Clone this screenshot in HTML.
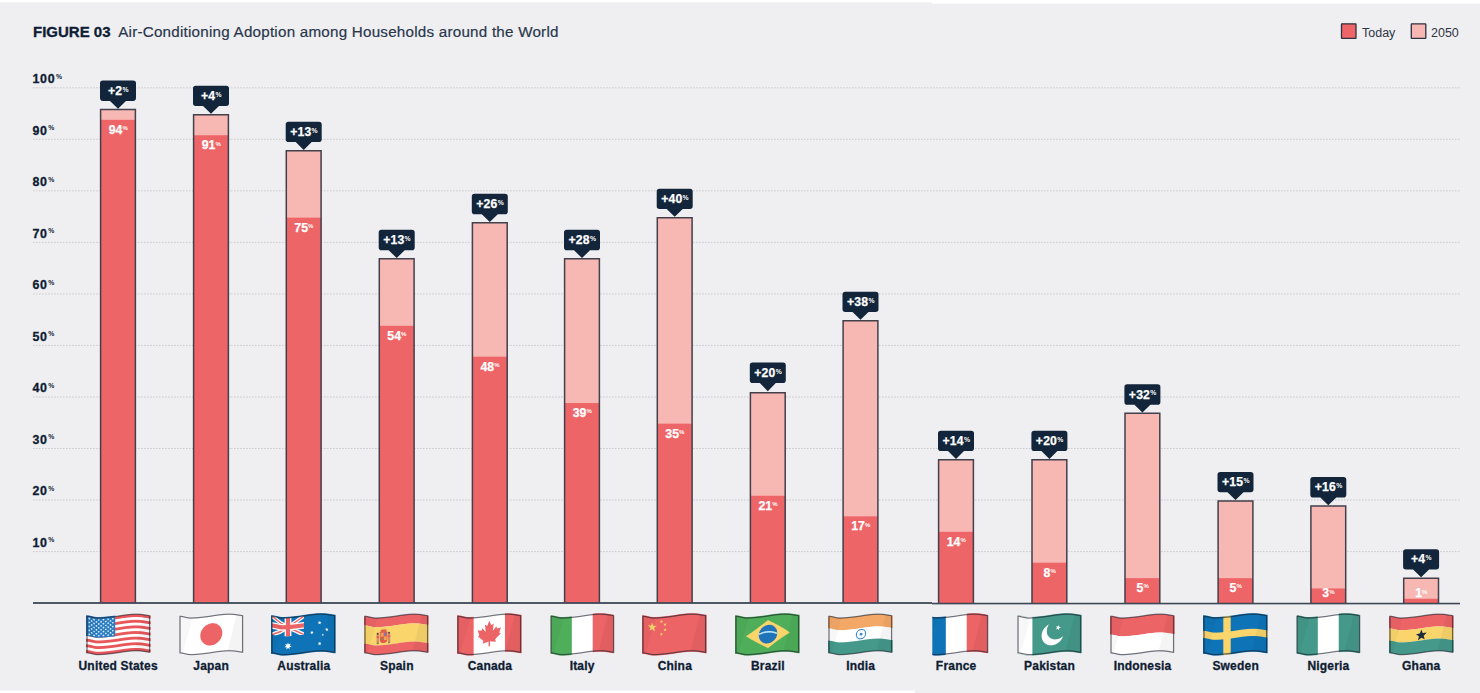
<!DOCTYPE html><html><head><meta charset="utf-8"><style>html,body{margin:0;padding:0;background:#efeff2;font-family:"Liberation Sans",sans-serif;}body{width:1480px;height:693px;overflow:hidden;position:relative;}svg{position:absolute;left:0;top:0;display:block}</style></head><body>
<svg width="1480" height="693" viewBox="0 0 1480 693" font-family="Liberation Sans, sans-serif">
<rect x="0" y="0" width="1480" height="693" fill="#efeff2"/>
<rect x="0" y="0" width="932" height="2.4" fill="#fff"/>
<rect x="932" y="0" width="548" height="3.6" fill="#fff"/>
<rect x="0" y="690.5" width="915" height="3" fill="#fff"/>
<text x="33" y="36.6" font-size="15" font-weight="bold" fill="#0e1c33" stroke="#0e1c33" stroke-width="0.3">FIGURE 03</text>
<text x="118.2" y="36.5" font-size="15.2" fill="#2a374b" stroke="#2a374b" stroke-width="0.2" letter-spacing="0.23">Air-Conditioning Adoption among Households around the World</text>
<rect x="1341.5" y="23.8" width="14.5" height="14.5" rx="0.4" fill="#ee6567" stroke="#2e3140" stroke-width="1.3"/>
<text x="1362" y="36.9" font-size="12.5" fill="#30343f">Today</text>
<rect x="1411.3" y="23.8" width="14.5" height="14.5" rx="0.4" fill="#f7b8b4" stroke="#2e3140" stroke-width="1.3"/>
<text x="1431" y="36.9" font-size="12.5" fill="#30343f">2050</text>
<line x1="33" y1="551.57" x2="1460" y2="551.57" stroke="#c9c9ce" stroke-width="0.95" stroke-dasharray="1.6 1.4"/>
<text x="32.4" y="546.77" font-size="12.4" font-weight="bold" fill="#0e1c33" stroke="#0e1c33" stroke-width="0.3" letter-spacing="0.75">10<tspan font-size="6.8" dy="-4.4" dx="0.6" letter-spacing="0" stroke-width="0">%</tspan></text>
<line x1="33" y1="500.04" x2="1460" y2="500.04" stroke="#c9c9ce" stroke-width="0.95" stroke-dasharray="1.6 1.4"/>
<text x="32.4" y="495.24" font-size="12.4" font-weight="bold" fill="#0e1c33" stroke="#0e1c33" stroke-width="0.3" letter-spacing="0.75">20<tspan font-size="6.8" dy="-4.4" dx="0.6" letter-spacing="0" stroke-width="0">%</tspan></text>
<line x1="33" y1="448.51" x2="1460" y2="448.51" stroke="#c9c9ce" stroke-width="0.95" stroke-dasharray="1.6 1.4"/>
<text x="32.4" y="443.71" font-size="12.4" font-weight="bold" fill="#0e1c33" stroke="#0e1c33" stroke-width="0.3" letter-spacing="0.75">30<tspan font-size="6.8" dy="-4.4" dx="0.6" letter-spacing="0" stroke-width="0">%</tspan></text>
<line x1="33" y1="396.98" x2="1460" y2="396.98" stroke="#c9c9ce" stroke-width="0.95" stroke-dasharray="1.6 1.4"/>
<text x="32.4" y="392.18" font-size="12.4" font-weight="bold" fill="#0e1c33" stroke="#0e1c33" stroke-width="0.3" letter-spacing="0.75">40<tspan font-size="6.8" dy="-4.4" dx="0.6" letter-spacing="0" stroke-width="0">%</tspan></text>
<line x1="33" y1="345.45" x2="1460" y2="345.45" stroke="#c9c9ce" stroke-width="0.95" stroke-dasharray="1.6 1.4"/>
<text x="32.4" y="340.65" font-size="12.4" font-weight="bold" fill="#0e1c33" stroke="#0e1c33" stroke-width="0.3" letter-spacing="0.75">50<tspan font-size="6.8" dy="-4.4" dx="0.6" letter-spacing="0" stroke-width="0">%</tspan></text>
<line x1="33" y1="293.92" x2="1460" y2="293.92" stroke="#c9c9ce" stroke-width="0.95" stroke-dasharray="1.6 1.4"/>
<text x="32.4" y="289.12" font-size="12.4" font-weight="bold" fill="#0e1c33" stroke="#0e1c33" stroke-width="0.3" letter-spacing="0.75">60<tspan font-size="6.8" dy="-4.4" dx="0.6" letter-spacing="0" stroke-width="0">%</tspan></text>
<line x1="33" y1="242.39" x2="1460" y2="242.39" stroke="#c9c9ce" stroke-width="0.95" stroke-dasharray="1.6 1.4"/>
<text x="32.4" y="237.59" font-size="12.4" font-weight="bold" fill="#0e1c33" stroke="#0e1c33" stroke-width="0.3" letter-spacing="0.75">70<tspan font-size="6.8" dy="-4.4" dx="0.6" letter-spacing="0" stroke-width="0">%</tspan></text>
<line x1="33" y1="190.86" x2="1460" y2="190.86" stroke="#c9c9ce" stroke-width="0.95" stroke-dasharray="1.6 1.4"/>
<text x="32.4" y="186.06" font-size="12.4" font-weight="bold" fill="#0e1c33" stroke="#0e1c33" stroke-width="0.3" letter-spacing="0.75">80<tspan font-size="6.8" dy="-4.4" dx="0.6" letter-spacing="0" stroke-width="0">%</tspan></text>
<line x1="33" y1="139.33" x2="1460" y2="139.33" stroke="#c9c9ce" stroke-width="0.95" stroke-dasharray="1.6 1.4"/>
<text x="32.4" y="134.53" font-size="12.4" font-weight="bold" fill="#0e1c33" stroke="#0e1c33" stroke-width="0.3" letter-spacing="0.75">90<tspan font-size="6.8" dy="-4.4" dx="0.6" letter-spacing="0" stroke-width="0">%</tspan></text>
<line x1="33" y1="87.80" x2="1460" y2="87.80" stroke="#c9c9ce" stroke-width="0.95" stroke-dasharray="1.6 1.4"/>
<text x="32.4" y="83.00" font-size="12.4" font-weight="bold" fill="#0e1c33" stroke="#0e1c33" stroke-width="0.3" letter-spacing="0.75">100<tspan font-size="6.8" dy="-4.4" dx="0.6" letter-spacing="0" stroke-width="0">%</tspan></text>
<rect x="100.60" y="109.50" width="34.80" height="493.50" fill="#f7b8b4"/>
<rect x="100.60" y="119.80" width="34.80" height="483.20" fill="#ee6567"/>
<path d="M100.60 603 V109.50 H135.40 V603" fill="none" stroke="#433f4b" stroke-width="1.5"/>
<text x="118.20" y="133.70" font-size="12.3" font-weight="bold" fill="#fff" stroke="#fff" stroke-width="0.25" text-anchor="middle">94<tspan font-size="6" dy="-3.6" dx="0.1" stroke-width="0">%</tspan></text>
<path d="M102.80 80.50 H133.20 Q136.00 80.50 136.00 83.30 V98.10 Q136.00 100.90 133.20 100.90 H126.00 L118.00 108.70 L110.00 100.90 H102.80 Q100.00 100.90 100.00 98.10 V83.30 Q100.00 80.50 102.80 80.50 Z" fill="#13253a"/>
<text x="118.30" y="94.80" font-size="12.2" font-weight="bold" fill="#fff" stroke="#fff" stroke-width="0.25" text-anchor="middle" letter-spacing="0.2">+2<tspan font-size="6.8" dy="-3.3" dx="0.2" stroke-width="0">%</tspan></text>
<rect x="193.60" y="114.65" width="34.80" height="488.35" fill="#f7b8b4"/>
<rect x="193.60" y="135.25" width="34.80" height="467.75" fill="#ee6567"/>
<path d="M193.60 603 V114.65 H228.40 V603" fill="none" stroke="#433f4b" stroke-width="1.5"/>
<text x="211.20" y="149.15" font-size="12.3" font-weight="bold" fill="#fff" stroke="#fff" stroke-width="0.25" text-anchor="middle">91<tspan font-size="6" dy="-3.6" dx="0.1" stroke-width="0">%</tspan></text>
<path d="M195.80 85.65 H226.20 Q229.00 85.65 229.00 88.45 V103.25 Q229.00 106.05 226.20 106.05 H219.00 L211.00 113.85 L203.00 106.05 H195.80 Q193.00 106.05 193.00 103.25 V88.45 Q193.00 85.65 195.80 85.65 Z" fill="#13253a"/>
<text x="211.30" y="99.95" font-size="12.2" font-weight="bold" fill="#fff" stroke="#fff" stroke-width="0.25" text-anchor="middle" letter-spacing="0.2">+4<tspan font-size="6.8" dy="-3.3" dx="0.2" stroke-width="0">%</tspan></text>
<rect x="286.30" y="150.70" width="34.80" height="452.30" fill="#f7b8b4"/>
<rect x="286.30" y="217.65" width="34.80" height="385.35" fill="#ee6567"/>
<path d="M286.30 603 V150.70 H321.10 V603" fill="none" stroke="#433f4b" stroke-width="1.5"/>
<text x="303.90" y="231.55" font-size="12.3" font-weight="bold" fill="#fff" stroke="#fff" stroke-width="0.25" text-anchor="middle">75<tspan font-size="6" dy="-3.6" dx="0.1" stroke-width="0">%</tspan></text>
<path d="M288.50 121.70 H318.90 Q321.70 121.70 321.70 124.50 V139.30 Q321.70 142.10 318.90 142.10 H311.70 L303.70 149.90 L295.70 142.10 H288.50 Q285.70 142.10 285.70 139.30 V124.50 Q285.70 121.70 288.50 121.70 Z" fill="#13253a"/>
<text x="304.00" y="136.00" font-size="12.2" font-weight="bold" fill="#fff" stroke="#fff" stroke-width="0.25" text-anchor="middle" letter-spacing="0.2">+13<tspan font-size="6.8" dy="-3.3" dx="0.2" stroke-width="0">%</tspan></text>
<rect x="379.30" y="258.85" width="34.80" height="344.15" fill="#f7b8b4"/>
<rect x="379.30" y="325.80" width="34.80" height="277.20" fill="#ee6567"/>
<path d="M379.30 603 V258.85 H414.10 V603" fill="none" stroke="#433f4b" stroke-width="1.5"/>
<text x="396.90" y="339.70" font-size="12.3" font-weight="bold" fill="#fff" stroke="#fff" stroke-width="0.25" text-anchor="middle">54<tspan font-size="6" dy="-3.6" dx="0.1" stroke-width="0">%</tspan></text>
<path d="M381.50 229.85 H411.90 Q414.70 229.85 414.70 232.65 V247.45 Q414.70 250.25 411.90 250.25 H404.70 L396.70 258.05 L388.70 250.25 H381.50 Q378.70 250.25 378.70 247.45 V232.65 Q378.70 229.85 381.50 229.85 Z" fill="#13253a"/>
<text x="397.00" y="244.15" font-size="12.2" font-weight="bold" fill="#fff" stroke="#fff" stroke-width="0.25" text-anchor="middle" letter-spacing="0.2">+13<tspan font-size="6.8" dy="-3.3" dx="0.2" stroke-width="0">%</tspan></text>
<rect x="472.40" y="222.80" width="34.80" height="380.20" fill="#f7b8b4"/>
<rect x="472.40" y="356.70" width="34.80" height="246.30" fill="#ee6567"/>
<path d="M472.40 603 V222.80 H507.20 V603" fill="none" stroke="#433f4b" stroke-width="1.5"/>
<text x="490.00" y="370.60" font-size="12.3" font-weight="bold" fill="#fff" stroke="#fff" stroke-width="0.25" text-anchor="middle">48<tspan font-size="6" dy="-3.6" dx="0.1" stroke-width="0">%</tspan></text>
<path d="M474.60 193.80 H505.00 Q507.80 193.80 507.80 196.60 V211.40 Q507.80 214.20 505.00 214.20 H497.80 L489.80 222.00 L481.80 214.20 H474.60 Q471.80 214.20 471.80 211.40 V196.60 Q471.80 193.80 474.60 193.80 Z" fill="#13253a"/>
<text x="490.10" y="208.10" font-size="12.2" font-weight="bold" fill="#fff" stroke="#fff" stroke-width="0.25" text-anchor="middle" letter-spacing="0.2">+26<tspan font-size="6.8" dy="-3.3" dx="0.2" stroke-width="0">%</tspan></text>
<rect x="564.60" y="258.85" width="34.80" height="344.15" fill="#f7b8b4"/>
<rect x="564.60" y="403.05" width="34.80" height="199.95" fill="#ee6567"/>
<path d="M564.60 603 V258.85 H599.40 V603" fill="none" stroke="#433f4b" stroke-width="1.5"/>
<text x="582.20" y="416.95" font-size="12.3" font-weight="bold" fill="#fff" stroke="#fff" stroke-width="0.25" text-anchor="middle">39<tspan font-size="6" dy="-3.6" dx="0.1" stroke-width="0">%</tspan></text>
<path d="M566.80 229.85 H597.20 Q600.00 229.85 600.00 232.65 V247.45 Q600.00 250.25 597.20 250.25 H590.00 L582.00 258.05 L574.00 250.25 H566.80 Q564.00 250.25 564.00 247.45 V232.65 Q564.00 229.85 566.80 229.85 Z" fill="#13253a"/>
<text x="582.30" y="244.15" font-size="12.2" font-weight="bold" fill="#fff" stroke="#fff" stroke-width="0.25" text-anchor="middle" letter-spacing="0.2">+28<tspan font-size="6.8" dy="-3.3" dx="0.2" stroke-width="0">%</tspan></text>
<rect x="657.30" y="217.65" width="34.80" height="385.35" fill="#f7b8b4"/>
<rect x="657.30" y="423.65" width="34.80" height="179.35" fill="#ee6567"/>
<path d="M657.30 603 V217.65 H692.10 V603" fill="none" stroke="#433f4b" stroke-width="1.5"/>
<text x="674.90" y="437.55" font-size="12.3" font-weight="bold" fill="#fff" stroke="#fff" stroke-width="0.25" text-anchor="middle">35<tspan font-size="6" dy="-3.6" dx="0.1" stroke-width="0">%</tspan></text>
<path d="M659.50 188.65 H689.90 Q692.70 188.65 692.70 191.45 V206.25 Q692.70 209.05 689.90 209.05 H682.70 L674.70 216.85 L666.70 209.05 H659.50 Q656.70 209.05 656.70 206.25 V191.45 Q656.70 188.65 659.50 188.65 Z" fill="#13253a"/>
<text x="675.00" y="202.95" font-size="12.2" font-weight="bold" fill="#fff" stroke="#fff" stroke-width="0.25" text-anchor="middle" letter-spacing="0.2">+40<tspan font-size="6.8" dy="-3.3" dx="0.2" stroke-width="0">%</tspan></text>
<rect x="750.40" y="392.75" width="34.80" height="210.25" fill="#f7b8b4"/>
<rect x="750.40" y="495.75" width="34.80" height="107.25" fill="#ee6567"/>
<path d="M750.40 603 V392.75 H785.20 V603" fill="none" stroke="#433f4b" stroke-width="1.5"/>
<text x="768.00" y="509.65" font-size="12.3" font-weight="bold" fill="#fff" stroke="#fff" stroke-width="0.25" text-anchor="middle">21<tspan font-size="6" dy="-3.6" dx="0.1" stroke-width="0">%</tspan></text>
<path d="M752.60 362.55 H783.00 Q785.80 362.55 785.80 365.35 V380.15 Q785.80 382.95 783.00 382.95 H775.80 L767.80 391.35 L759.80 382.95 H752.60 Q749.80 382.95 749.80 380.15 V365.35 Q749.80 362.55 752.60 362.55 Z" fill="#13253a"/>
<text x="768.10" y="376.85" font-size="12.2" font-weight="bold" fill="#fff" stroke="#fff" stroke-width="0.25" text-anchor="middle" letter-spacing="0.2">+20<tspan font-size="6.8" dy="-3.3" dx="0.2" stroke-width="0">%</tspan></text>
<rect x="843.10" y="320.65" width="34.80" height="282.35" fill="#f7b8b4"/>
<rect x="843.10" y="516.35" width="34.80" height="86.65" fill="#ee6567"/>
<path d="M843.10 603 V320.65 H877.90 V603" fill="none" stroke="#433f4b" stroke-width="1.5"/>
<text x="860.70" y="530.25" font-size="12.3" font-weight="bold" fill="#fff" stroke="#fff" stroke-width="0.25" text-anchor="middle">17<tspan font-size="6" dy="-3.6" dx="0.1" stroke-width="0">%</tspan></text>
<path d="M845.30 291.65 H875.70 Q878.50 291.65 878.50 294.45 V309.25 Q878.50 312.05 875.70 312.05 H868.50 L860.50 319.85 L852.50 312.05 H845.30 Q842.50 312.05 842.50 309.25 V294.45 Q842.50 291.65 845.30 291.65 Z" fill="#13253a"/>
<text x="860.80" y="305.95" font-size="12.2" font-weight="bold" fill="#fff" stroke="#fff" stroke-width="0.25" text-anchor="middle" letter-spacing="0.2">+38<tspan font-size="6.8" dy="-3.3" dx="0.2" stroke-width="0">%</tspan></text>
<rect x="938.60" y="459.70" width="34.80" height="143.30" fill="#f7b8b4"/>
<rect x="938.60" y="531.80" width="34.80" height="71.20" fill="#ee6567"/>
<path d="M938.60 603 V459.70 H973.40 V603" fill="none" stroke="#433f4b" stroke-width="1.5"/>
<text x="956.20" y="545.70" font-size="12.3" font-weight="bold" fill="#fff" stroke="#fff" stroke-width="0.25" text-anchor="middle">14<tspan font-size="6" dy="-3.6" dx="0.1" stroke-width="0">%</tspan></text>
<path d="M940.80 430.70 H971.20 Q974.00 430.70 974.00 433.50 V448.30 Q974.00 451.10 971.20 451.10 H964.00 L956.00 458.90 L948.00 451.10 H940.80 Q938.00 451.10 938.00 448.30 V433.50 Q938.00 430.70 940.80 430.70 Z" fill="#13253a"/>
<text x="956.30" y="445.00" font-size="12.2" font-weight="bold" fill="#fff" stroke="#fff" stroke-width="0.25" text-anchor="middle" letter-spacing="0.2">+14<tspan font-size="6.8" dy="-3.3" dx="0.2" stroke-width="0">%</tspan></text>
<rect x="1032.00" y="459.70" width="34.80" height="143.30" fill="#f7b8b4"/>
<rect x="1032.00" y="562.70" width="34.80" height="40.30" fill="#ee6567"/>
<path d="M1032.00 603 V459.70 H1066.80 V603" fill="none" stroke="#433f4b" stroke-width="1.5"/>
<text x="1049.60" y="576.60" font-size="12.3" font-weight="bold" fill="#fff" stroke="#fff" stroke-width="0.25" text-anchor="middle">8<tspan font-size="6" dy="-3.6" dx="0.1" stroke-width="0">%</tspan></text>
<path d="M1034.20 430.70 H1064.60 Q1067.40 430.70 1067.40 433.50 V448.30 Q1067.40 451.10 1064.60 451.10 H1057.40 L1049.40 458.90 L1041.40 451.10 H1034.20 Q1031.40 451.10 1031.40 448.30 V433.50 Q1031.40 430.70 1034.20 430.70 Z" fill="#13253a"/>
<text x="1049.70" y="445.00" font-size="12.2" font-weight="bold" fill="#fff" stroke="#fff" stroke-width="0.25" text-anchor="middle" letter-spacing="0.2">+20<tspan font-size="6.8" dy="-3.3" dx="0.2" stroke-width="0">%</tspan></text>
<rect x="1125.00" y="413.35" width="34.80" height="189.65" fill="#f7b8b4"/>
<rect x="1125.00" y="578.15" width="34.80" height="24.85" fill="#ee6567"/>
<path d="M1125.00 603 V413.35 H1159.80 V603" fill="none" stroke="#433f4b" stroke-width="1.5"/>
<text x="1142.60" y="592.05" font-size="12.3" font-weight="bold" fill="#fff" stroke="#fff" stroke-width="0.25" text-anchor="middle">5<tspan font-size="6" dy="-3.6" dx="0.1" stroke-width="0">%</tspan></text>
<path d="M1127.20 384.35 H1157.60 Q1160.40 384.35 1160.40 387.15 V401.95 Q1160.40 404.75 1157.60 404.75 H1150.40 L1142.40 412.55 L1134.40 404.75 H1127.20 Q1124.40 404.75 1124.40 401.95 V387.15 Q1124.40 384.35 1127.20 384.35 Z" fill="#13253a"/>
<text x="1142.70" y="398.65" font-size="12.2" font-weight="bold" fill="#fff" stroke="#fff" stroke-width="0.25" text-anchor="middle" letter-spacing="0.2">+32<tspan font-size="6.8" dy="-3.3" dx="0.2" stroke-width="0">%</tspan></text>
<rect x="1218.10" y="500.90" width="34.80" height="102.10" fill="#f7b8b4"/>
<rect x="1218.10" y="578.15" width="34.80" height="24.85" fill="#ee6567"/>
<path d="M1218.10 603 V500.90 H1252.90 V603" fill="none" stroke="#433f4b" stroke-width="1.5"/>
<text x="1235.70" y="592.05" font-size="12.3" font-weight="bold" fill="#fff" stroke="#fff" stroke-width="0.25" text-anchor="middle">5<tspan font-size="6" dy="-3.6" dx="0.1" stroke-width="0">%</tspan></text>
<path d="M1220.30 471.90 H1250.70 Q1253.50 471.90 1253.50 474.70 V489.50 Q1253.50 492.30 1250.70 492.30 H1243.50 L1235.50 500.10 L1227.50 492.30 H1220.30 Q1217.50 492.30 1217.50 489.50 V474.70 Q1217.50 471.90 1220.30 471.90 Z" fill="#13253a"/>
<text x="1235.80" y="486.20" font-size="12.2" font-weight="bold" fill="#fff" stroke="#fff" stroke-width="0.25" text-anchor="middle" letter-spacing="0.2">+15<tspan font-size="6.8" dy="-3.3" dx="0.2" stroke-width="0">%</tspan></text>
<rect x="1310.90" y="506.05" width="34.80" height="96.95" fill="#f7b8b4"/>
<rect x="1310.90" y="588.45" width="34.80" height="14.55" fill="#ee6567"/>
<path d="M1310.90 603 V506.05 H1345.70 V603" fill="none" stroke="#433f4b" stroke-width="1.5"/>
<text x="1328.50" y="597.40" font-size="12.3" font-weight="bold" fill="#fff" stroke="#fff" stroke-width="0.25" text-anchor="middle">3<tspan font-size="6" dy="-3.6" dx="0.1" stroke-width="0">%</tspan></text>
<path d="M1313.10 477.05 H1343.50 Q1346.30 477.05 1346.30 479.85 V494.65 Q1346.30 497.45 1343.50 497.45 H1336.30 L1328.30 505.25 L1320.30 497.45 H1313.10 Q1310.30 497.45 1310.30 494.65 V479.85 Q1310.30 477.05 1313.10 477.05 Z" fill="#13253a"/>
<text x="1328.60" y="491.35" font-size="12.2" font-weight="bold" fill="#fff" stroke="#fff" stroke-width="0.25" text-anchor="middle" letter-spacing="0.2">+16<tspan font-size="6.8" dy="-3.3" dx="0.2" stroke-width="0">%</tspan></text>
<rect x="1403.70" y="578.15" width="34.80" height="24.85" fill="#f7b8b4"/>
<rect x="1403.70" y="598.75" width="34.80" height="4.25" fill="#ee6567"/>
<path d="M1403.70 603 V578.15 H1438.50 V603" fill="none" stroke="#433f4b" stroke-width="1.5"/>
<text x="1421.30" y="597.40" font-size="12.3" font-weight="bold" fill="#fff" stroke="#fff" stroke-width="0.25" text-anchor="middle">1<tspan font-size="6" dy="-3.6" dx="0.1" stroke-width="0">%</tspan></text>
<path d="M1405.90 549.15 H1436.30 Q1439.10 549.15 1439.10 551.95 V566.75 Q1439.10 569.55 1436.30 569.55 H1429.10 L1421.10 577.35 L1413.10 569.55 H1405.90 Q1403.10 569.55 1403.10 566.75 V551.95 Q1403.10 549.15 1405.90 549.15 Z" fill="#13253a"/>
<text x="1421.40" y="563.45" font-size="12.2" font-weight="bold" fill="#fff" stroke="#fff" stroke-width="0.25" text-anchor="middle" letter-spacing="0.2">+4<tspan font-size="6.8" dy="-3.3" dx="0.2" stroke-width="0">%</tspan></text>
<rect x="33" y="602.1" width="899" height="1.8" fill="#3e4756"/>
<rect x="932" y="602.75" width="528" height="1.6" fill="#3e4756"/>
<text x="118.15" y="669.7" font-size="12" font-weight="bold" fill="#0f1d33" stroke="#0f1d33" stroke-width="0.3" text-anchor="middle" letter-spacing="0.2">United States</text>
<text x="211.15" y="669.7" font-size="12" font-weight="bold" fill="#0f1d33" stroke="#0f1d33" stroke-width="0.3" text-anchor="middle" letter-spacing="0.2">Japan</text>
<text x="303.85" y="669.7" font-size="12" font-weight="bold" fill="#0f1d33" stroke="#0f1d33" stroke-width="0.3" text-anchor="middle" letter-spacing="0.2">Australia</text>
<text x="396.85" y="669.7" font-size="12" font-weight="bold" fill="#0f1d33" stroke="#0f1d33" stroke-width="0.3" text-anchor="middle" letter-spacing="0.2">Spain</text>
<text x="489.95" y="669.7" font-size="12" font-weight="bold" fill="#0f1d33" stroke="#0f1d33" stroke-width="0.3" text-anchor="middle" letter-spacing="0.2">Canada</text>
<text x="582.15" y="669.7" font-size="12" font-weight="bold" fill="#0f1d33" stroke="#0f1d33" stroke-width="0.3" text-anchor="middle" letter-spacing="0.2">Italy</text>
<text x="674.85" y="669.7" font-size="12" font-weight="bold" fill="#0f1d33" stroke="#0f1d33" stroke-width="0.3" text-anchor="middle" letter-spacing="0.2">China</text>
<text x="767.95" y="669.7" font-size="12" font-weight="bold" fill="#0f1d33" stroke="#0f1d33" stroke-width="0.3" text-anchor="middle" letter-spacing="0.2">Brazil</text>
<text x="860.65" y="669.7" font-size="12" font-weight="bold" fill="#0f1d33" stroke="#0f1d33" stroke-width="0.3" text-anchor="middle" letter-spacing="0.2">India</text>
<text x="956.15" y="669.7" font-size="12" font-weight="bold" fill="#0f1d33" stroke="#0f1d33" stroke-width="0.3" text-anchor="middle" letter-spacing="0.2">France</text>
<text x="1049.55" y="669.7" font-size="12" font-weight="bold" fill="#0f1d33" stroke="#0f1d33" stroke-width="0.3" text-anchor="middle" letter-spacing="0.2">Pakistan</text>
<text x="1142.55" y="669.7" font-size="12" font-weight="bold" fill="#0f1d33" stroke="#0f1d33" stroke-width="0.3" text-anchor="middle" letter-spacing="0.2">Indonesia</text>
<text x="1235.65" y="669.7" font-size="12" font-weight="bold" fill="#0f1d33" stroke="#0f1d33" stroke-width="0.3" text-anchor="middle" letter-spacing="0.2">Sweden</text>
<text x="1328.45" y="669.7" font-size="12" font-weight="bold" fill="#0f1d33" stroke="#0f1d33" stroke-width="0.3" text-anchor="middle" letter-spacing="0.2">Nigeria</text>
<text x="1421.25" y="669.7" font-size="12" font-weight="bold" fill="#0f1d33" stroke="#0f1d33" stroke-width="0.3" text-anchor="middle" letter-spacing="0.2">Ghana</text>
<defs>
<g id="fl_us"><rect x="-1.00" y="-1.00" width="64.60" height="38.60" fill="#ffffff"/><rect x="-1.00" y="0.00" width="64.60" height="2.84" fill="#e9575b"/><rect x="-1.00" y="5.63" width="64.60" height="2.84" fill="#e9575b"/><rect x="-1.00" y="11.26" width="64.60" height="2.84" fill="#e9575b"/><rect x="-1.00" y="16.89" width="64.60" height="2.84" fill="#e9575b"/><rect x="-1.00" y="22.52" width="64.60" height="2.84" fill="#e9575b"/><rect x="-1.00" y="28.15" width="64.60" height="2.84" fill="#e9575b"/><rect x="-1.00" y="33.78" width="64.60" height="2.84" fill="#e9575b"/><rect x="-1.00" y="-1.00" width="29.20" height="20.71" fill="#2a7cc2"/><circle cx="2.35" cy="1.97" r="0.85" fill="#dff0ff"/><circle cx="7.05" cy="1.97" r="0.85" fill="#dff0ff"/><circle cx="11.75" cy="1.97" r="0.85" fill="#dff0ff"/><circle cx="16.45" cy="1.97" r="0.85" fill="#dff0ff"/><circle cx="21.15" cy="1.97" r="0.85" fill="#dff0ff"/><circle cx="25.85" cy="1.97" r="0.85" fill="#dff0ff"/><circle cx="4.70" cy="3.94" r="0.85" fill="#dff0ff"/><circle cx="9.40" cy="3.94" r="0.85" fill="#dff0ff"/><circle cx="14.10" cy="3.94" r="0.85" fill="#dff0ff"/><circle cx="18.80" cy="3.94" r="0.85" fill="#dff0ff"/><circle cx="23.50" cy="3.94" r="0.85" fill="#dff0ff"/><circle cx="2.35" cy="5.91" r="0.85" fill="#dff0ff"/><circle cx="7.05" cy="5.91" r="0.85" fill="#dff0ff"/><circle cx="11.75" cy="5.91" r="0.85" fill="#dff0ff"/><circle cx="16.45" cy="5.91" r="0.85" fill="#dff0ff"/><circle cx="21.15" cy="5.91" r="0.85" fill="#dff0ff"/><circle cx="25.85" cy="5.91" r="0.85" fill="#dff0ff"/><circle cx="4.70" cy="7.88" r="0.85" fill="#dff0ff"/><circle cx="9.40" cy="7.88" r="0.85" fill="#dff0ff"/><circle cx="14.10" cy="7.88" r="0.85" fill="#dff0ff"/><circle cx="18.80" cy="7.88" r="0.85" fill="#dff0ff"/><circle cx="23.50" cy="7.88" r="0.85" fill="#dff0ff"/><circle cx="2.35" cy="9.85" r="0.85" fill="#dff0ff"/><circle cx="7.05" cy="9.85" r="0.85" fill="#dff0ff"/><circle cx="11.75" cy="9.85" r="0.85" fill="#dff0ff"/><circle cx="16.45" cy="9.85" r="0.85" fill="#dff0ff"/><circle cx="21.15" cy="9.85" r="0.85" fill="#dff0ff"/><circle cx="25.85" cy="9.85" r="0.85" fill="#dff0ff"/><circle cx="4.70" cy="11.82" r="0.85" fill="#dff0ff"/><circle cx="9.40" cy="11.82" r="0.85" fill="#dff0ff"/><circle cx="14.10" cy="11.82" r="0.85" fill="#dff0ff"/><circle cx="18.80" cy="11.82" r="0.85" fill="#dff0ff"/><circle cx="23.50" cy="11.82" r="0.85" fill="#dff0ff"/><circle cx="2.35" cy="13.80" r="0.85" fill="#dff0ff"/><circle cx="7.05" cy="13.80" r="0.85" fill="#dff0ff"/><circle cx="11.75" cy="13.80" r="0.85" fill="#dff0ff"/><circle cx="16.45" cy="13.80" r="0.85" fill="#dff0ff"/><circle cx="21.15" cy="13.80" r="0.85" fill="#dff0ff"/><circle cx="25.85" cy="13.80" r="0.85" fill="#dff0ff"/><circle cx="4.70" cy="15.77" r="0.85" fill="#dff0ff"/><circle cx="9.40" cy="15.77" r="0.85" fill="#dff0ff"/><circle cx="14.10" cy="15.77" r="0.85" fill="#dff0ff"/><circle cx="18.80" cy="15.77" r="0.85" fill="#dff0ff"/><circle cx="23.50" cy="15.77" r="0.85" fill="#dff0ff"/><circle cx="2.35" cy="17.74" r="0.85" fill="#dff0ff"/><circle cx="7.05" cy="17.74" r="0.85" fill="#dff0ff"/><circle cx="11.75" cy="17.74" r="0.85" fill="#dff0ff"/><circle cx="16.45" cy="17.74" r="0.85" fill="#dff0ff"/><circle cx="21.15" cy="17.74" r="0.85" fill="#dff0ff"/><circle cx="25.85" cy="17.74" r="0.85" fill="#dff0ff"/><polygon points="56.65,0 63.60,0 63.60,36.60 47.58,36.60" fill="#000" fill-opacity="0.045"/><polygon points="-1,0 12.52,0 2.50,36.60 -1,36.60" fill="#000" fill-opacity="0.03"/><rect x="0" y="0" width="62.60" height="36.60" fill="none" stroke="#1a1d2a" stroke-opacity="0.62" stroke-width="1.25"/></g>
<g id="fl_jp"><rect x="-1.00" y="-1.00" width="64.60" height="38.60" fill="#ffffff"/><circle cx="31.30" cy="18.30" r="11" fill="#ec6466"/><polygon points="56.65,0 63.60,0 63.60,36.60 47.58,36.60" fill="#000" fill-opacity="0.045"/><polygon points="-1,0 12.52,0 2.50,36.60 -1,36.60" fill="#000" fill-opacity="0.03"/><rect x="0" y="0" width="62.60" height="36.60" fill="none" stroke="#1a1d2a" stroke-opacity="0.62" stroke-width="1.25"/></g>
<g id="fl_au"><rect x="-1.00" y="-1.00" width="64.60" height="38.60" fill="#0e74b7"/><g><svg x="0" y="0" width="32.00" height="18.60" overflow="hidden"><line x1="0" y1="0" x2="32.00" y2="18.60" stroke="#fff" stroke-width="4"/><line x1="0" y1="18.60" x2="32.00" y2="0" stroke="#fff" stroke-width="4"/><line x1="0" y1="0" x2="32.00" y2="18.60" stroke="#ec6466" stroke-width="1.4"/><line x1="0" y1="18.60" x2="32.00" y2="0" stroke="#ec6466" stroke-width="1.4"/><rect x="0.00" y="5.90" width="32.00" height="6.80" fill="#ffffff"/><rect x="12.60" y="0.00" width="6.80" height="18.60" fill="#ffffff"/><rect x="0.00" y="7.20" width="32.00" height="4.20" fill="#ec6466"/><rect x="13.90" y="0.00" width="4.20" height="18.60" fill="#ec6466"/></svg></g><polygon points="16.00,24.60 16.77,26.70 18.89,25.99 17.73,27.90 19.61,29.12 17.39,29.41 17.61,31.63 16.00,30.08 14.39,31.63 14.61,29.41 12.39,29.12 14.27,27.90 13.11,25.99 15.23,26.70" fill="#fff"/><polygon points="47.60,6.70 47.99,7.69 49.01,7.38 48.48,8.30 49.35,8.90 48.30,9.06 48.38,10.12 47.60,9.40 46.82,10.12 46.90,9.06 45.85,8.90 46.72,8.30 46.19,7.38 47.21,7.69" fill="#fff"/><polygon points="54.80,13.30 55.19,14.29 56.21,13.98 55.68,14.90 56.55,15.50 55.50,15.66 55.58,16.72 54.80,16.00 54.02,16.72 54.10,15.66 53.05,15.50 53.92,14.90 53.39,13.98 54.41,14.29" fill="#fff"/><polygon points="39.90,16.10 40.27,17.03 41.23,16.74 40.73,17.61 41.56,18.18 40.56,18.33 40.64,19.33 39.90,18.65 39.16,19.33 39.24,18.33 38.24,18.18 39.07,17.61 38.57,16.74 39.53,17.03" fill="#fff"/><polygon points="50.90,19.45 51.24,20.13 51.99,20.24 51.45,20.78 51.58,21.53 50.90,21.18 50.22,21.53 50.35,20.78 49.81,20.24 50.56,20.13" fill="#fff"/><polygon points="47.60,27.50 48.01,28.54 49.09,28.22 48.53,29.19 49.45,29.82 48.34,29.99 48.42,31.11 47.60,30.35 46.78,31.11 46.86,29.99 45.75,29.82 46.67,29.19 46.11,28.22 47.19,28.54" fill="#fff"/><polygon points="56.65,0 63.60,0 63.60,36.60 47.58,36.60" fill="#000" fill-opacity="0.045"/><polygon points="-1,0 12.52,0 2.50,36.60 -1,36.60" fill="#000" fill-opacity="0.03"/><rect x="0" y="0" width="62.60" height="36.60" fill="none" stroke="#1a1d2a" stroke-opacity="0.62" stroke-width="1.25"/></g>
<g id="fl_es"><rect x="-1.00" y="0.00" width="64.60" height="9.20" fill="#ec6466"/><rect x="-1.00" y="9.15" width="64.60" height="18.35" fill="#f9d56b"/><rect x="-1.00" y="27.45" width="64.60" height="9.20" fill="#ec6466"/><rect x="11.60" y="16.00" width="2.30" height="9.60" fill="#d98a6a"/><rect x="22.90" y="16.00" width="2.30" height="9.60" fill="#d98a6a"/><rect x="11.60" y="18.50" width="2.30" height="1.20" fill="#c9504a"/><rect x="22.90" y="18.50" width="2.30" height="1.20" fill="#c9504a"/><circle cx="12.75" cy="15.7" r="1.0" fill="#4f4a45"/><circle cx="24.05" cy="15.7" r="1.0" fill="#4f4a45"/><circle cx="12.75" cy="25.4" r="0.9" fill="#5a8a60"/><circle cx="24.05" cy="25.4" r="0.9" fill="#5a8a60"/><path d="M14.8 14.2 H22.4 V21.6 Q22.4 25.4 18.6 25.4 Q14.8 25.4 14.8 21.6 Z" fill="#e25a48"/><rect x="15.60" y="15.00" width="3.00" height="3.90" fill="#f0a35a"/><rect x="18.90" y="19.00" width="2.80" height="3.60" fill="#f0a35a"/><rect x="19.00" y="15.30" width="2.40" height="2.90" fill="#8d72b6"/><circle cx="17.1" cy="21.2" r="0.9" fill="#5aa060"/><rect x="15.6" y="11.9" width="6" height="2.6" rx="1" fill="#e0604a"/><polygon points="56.65,0 63.60,0 63.60,36.60 47.58,36.60" fill="#000" fill-opacity="0.045"/><polygon points="-1,0 12.52,0 2.50,36.60 -1,36.60" fill="#000" fill-opacity="0.03"/><rect x="0" y="0" width="62.60" height="36.60" fill="none" stroke="#1a1d2a" stroke-opacity="0.62" stroke-width="1.25"/></g>
<g id="fl_ca"><rect x="-1.00" y="-1.00" width="64.60" height="38.60" fill="#ffffff"/><rect x="-1.00" y="-1.00" width="16.65" height="38.60" fill="#ec6466"/><rect x="46.95" y="-1.00" width="16.65" height="38.60" fill="#ec6466"/><polygon points="31.30,4.70 33.39,9.56 35.71,8.03 34.78,15.45 38.26,11.36 39.19,13.66 42.90,12.89 41.28,18.01 42.67,19.04 37.10,24.16 38.03,26.72 32.00,25.44 32.00,30.30 30.60,30.30 30.60,25.44 24.57,26.72 25.50,24.16 19.93,19.04 21.32,18.01 19.70,12.89 23.41,13.66 24.34,11.36 27.82,15.45 26.89,8.03 29.21,9.56" fill="#ec6466"/><polygon points="56.65,0 63.60,0 63.60,36.60 47.58,36.60" fill="#000" fill-opacity="0.045"/><polygon points="-1,0 12.52,0 2.50,36.60 -1,36.60" fill="#000" fill-opacity="0.03"/><rect x="0" y="0" width="62.60" height="36.60" fill="none" stroke="#1a1d2a" stroke-opacity="0.62" stroke-width="1.25"/></g>
<g id="fl_it"><rect x="0.00" y="-1.00" width="20.92" height="38.60" fill="#4fae5a"/><rect x="20.87" y="-1.00" width="20.92" height="38.60" fill="#ffffff"/><rect x="41.73" y="-1.00" width="20.92" height="38.60" fill="#ec6466"/><polygon points="56.65,0 63.60,0 63.60,36.60 47.58,36.60" fill="#000" fill-opacity="0.045"/><polygon points="-1,0 12.52,0 2.50,36.60 -1,36.60" fill="#000" fill-opacity="0.03"/><rect x="0" y="0" width="62.60" height="36.60" fill="none" stroke="#1a1d2a" stroke-opacity="0.62" stroke-width="1.25"/></g>
<g id="fl_cn"><rect x="-1.00" y="-1.00" width="64.60" height="38.60" fill="#ec6466"/><polygon points="9.20,4.60 10.33,7.85 13.77,7.92 11.03,9.99 12.02,13.28 9.20,11.32 6.38,13.28 7.37,9.99 4.63,7.92 8.07,7.85" fill="#f9d56b"/><polygon points="18.40,2.20 18.85,3.28 20.02,3.37 19.13,4.14 19.40,5.28 18.40,4.67 17.40,5.28 17.67,4.14 16.78,3.37 17.95,3.28" fill="#f9d56b"/><polygon points="22.10,5.50 22.55,6.58 23.72,6.67 22.83,7.44 23.10,8.58 22.10,7.96 21.10,8.58 21.37,7.44 20.48,6.67 21.65,6.58" fill="#f9d56b"/><polygon points="22.10,10.90 22.55,11.98 23.72,12.07 22.83,12.84 23.10,13.98 22.10,13.37 21.10,13.98 21.37,12.84 20.48,12.07 21.65,11.98" fill="#f9d56b"/><polygon points="18.40,14.90 18.85,15.98 20.02,16.07 19.13,16.84 19.40,17.98 18.40,17.37 17.40,17.98 17.67,16.84 16.78,16.07 17.95,15.98" fill="#f9d56b"/><polygon points="56.65,0 63.60,0 63.60,36.60 47.58,36.60" fill="#000" fill-opacity="0.045"/><polygon points="-1,0 12.52,0 2.50,36.60 -1,36.60" fill="#000" fill-opacity="0.03"/><rect x="0" y="0" width="62.60" height="36.60" fill="none" stroke="#1a1d2a" stroke-opacity="0.62" stroke-width="1.25"/></g>
<g id="fl_br"><rect x="-1.00" y="-1.00" width="64.60" height="38.60" fill="#4fae5a"/><polygon points="10,18.2 32,4.2 54,18.2 32,32.2" fill="#f9d56b"/><circle cx="32" cy="18.2" r="9.2" fill="#1f73b8"/><path d="M22.9 17.2 Q31.5 13.8 41.0 18.6" fill="none" stroke="#b9e3f3" stroke-width="1.6"/><polygon points="56.65,0 63.60,0 63.60,36.60 47.58,36.60" fill="#000" fill-opacity="0.045"/><polygon points="-1,0 12.52,0 2.50,36.60 -1,36.60" fill="#000" fill-opacity="0.03"/><rect x="0" y="0" width="62.60" height="36.60" fill="none" stroke="#1a1d2a" stroke-opacity="0.62" stroke-width="1.25"/></g>
<g id="fl_in"><rect x="-1.00" y="0.00" width="64.60" height="12.25" fill="#f4a867"/><rect x="-1.00" y="12.20" width="64.60" height="12.25" fill="#ffffff"/><rect x="-1.00" y="24.40" width="64.60" height="12.25" fill="#44998a"/><circle cx="32" cy="18.2" r="4.6" fill="none" stroke="#3a8dcc" stroke-width="1.1"/><circle cx="32" cy="18.2" r="1.4" fill="#3a8dcc"/><polygon points="56.65,0 63.60,0 63.60,36.60 47.58,36.60" fill="#000" fill-opacity="0.045"/><polygon points="-1,0 12.52,0 2.50,36.60 -1,36.60" fill="#000" fill-opacity="0.03"/><rect x="0" y="0" width="62.60" height="36.60" fill="none" stroke="#1a1d2a" stroke-opacity="0.62" stroke-width="1.25"/></g>
<g id="fl_fr"><rect x="0.00" y="-1.00" width="20.92" height="38.60" fill="#0e74b7"/><rect x="20.87" y="-1.00" width="20.92" height="38.60" fill="#ffffff"/><rect x="41.73" y="-1.00" width="20.92" height="38.60" fill="#ec6466"/><polygon points="56.65,0 63.60,0 63.60,36.60 47.58,36.60" fill="#000" fill-opacity="0.045"/><polygon points="-1,0 12.52,0 2.50,36.60 -1,36.60" fill="#000" fill-opacity="0.03"/><rect x="0" y="0" width="62.60" height="36.60" fill="none" stroke="#1a1d2a" stroke-opacity="0.62" stroke-width="1.25"/></g>
<g id="fl_pk"><rect x="-1.00" y="-1.00" width="64.60" height="38.60" fill="#44998a"/><rect x="-1.00" y="-1.00" width="15.40" height="38.60" fill="#ffffff"/><circle cx="34.5" cy="18.7" r="10.9" fill="#fff"/><circle cx="38.5" cy="14.6" r="9.7" fill="#44998a"/><polygon points="41.12,10.36 41.21,12.22 42.90,12.99 41.16,13.65 40.94,15.50 39.78,14.04 37.96,14.41 38.99,12.86 38.07,11.24 39.87,11.73" fill="#fff"/><polygon points="56.65,0 63.60,0 63.60,36.60 47.58,36.60" fill="#000" fill-opacity="0.045"/><polygon points="-1,0 12.52,0 2.50,36.60 -1,36.60" fill="#000" fill-opacity="0.03"/><rect x="0" y="0" width="62.60" height="36.60" fill="none" stroke="#1a1d2a" stroke-opacity="0.62" stroke-width="1.25"/></g>
<g id="fl_id"><rect x="-1.00" y="0.00" width="64.60" height="18.35" fill="#ec6466"/><rect x="-1.00" y="18.30" width="64.60" height="18.35" fill="#ffffff"/><polygon points="56.65,0 63.60,0 63.60,36.60 47.58,36.60" fill="#000" fill-opacity="0.045"/><polygon points="-1,0 12.52,0 2.50,36.60 -1,36.60" fill="#000" fill-opacity="0.03"/><rect x="0" y="0" width="62.60" height="36.60" fill="none" stroke="#1a1d2a" stroke-opacity="0.62" stroke-width="1.25"/></g>
<g id="fl_se"><rect x="-1.00" y="-1.00" width="64.60" height="38.60" fill="#0e74b7"/><rect x="19.30" y="-1.00" width="7.40" height="38.60" fill="#f9d56b"/><rect x="-1.00" y="14.60" width="64.60" height="7.20" fill="#f9d56b"/><polygon points="56.65,0 63.60,0 63.60,36.60 47.58,36.60" fill="#000" fill-opacity="0.045"/><polygon points="-1,0 12.52,0 2.50,36.60 -1,36.60" fill="#000" fill-opacity="0.03"/><rect x="0" y="0" width="62.60" height="36.60" fill="none" stroke="#1a1d2a" stroke-opacity="0.62" stroke-width="1.25"/></g>
<g id="fl_ng"><rect x="0.00" y="-1.00" width="20.92" height="38.60" fill="#44998a"/><rect x="20.87" y="-1.00" width="20.92" height="38.60" fill="#ffffff"/><rect x="41.73" y="-1.00" width="20.92" height="38.60" fill="#44998a"/><polygon points="56.65,0 63.60,0 63.60,36.60 47.58,36.60" fill="#000" fill-opacity="0.045"/><polygon points="-1,0 12.52,0 2.50,36.60 -1,36.60" fill="#000" fill-opacity="0.03"/><rect x="0" y="0" width="62.60" height="36.60" fill="none" stroke="#1a1d2a" stroke-opacity="0.62" stroke-width="1.25"/></g>
<g id="fl_gh"><rect x="-1.00" y="0.00" width="64.60" height="12.25" fill="#ec6466"/><rect x="-1.00" y="12.20" width="64.60" height="12.25" fill="#f9d56b"/><rect x="-1.00" y="24.40" width="64.60" height="12.25" fill="#44998a"/><polygon points="31.30,13.40 32.73,17.23 36.82,17.41 33.62,19.95 34.71,23.89 31.30,21.64 27.89,23.89 28.98,19.95 25.78,17.41 29.87,17.23" fill="#1b2b3d"/><polygon points="56.65,0 63.60,0 63.60,36.60 47.58,36.60" fill="#000" fill-opacity="0.045"/><polygon points="-1,0 12.52,0 2.50,36.60 -1,36.60" fill="#000" fill-opacity="0.03"/><rect x="0" y="0" width="62.60" height="36.60" fill="none" stroke="#1a1d2a" stroke-opacity="0.62" stroke-width="1.25"/></g>
<clipPath id="cs0"><rect x="-1" y="-6" width="1" height="50"/></clipPath>
<clipPath id="cs1"><rect x="0" y="-6" width="1" height="50"/></clipPath>
<clipPath id="cs2"><rect x="1" y="-6" width="1" height="50"/></clipPath>
<clipPath id="cs3"><rect x="2" y="-6" width="1" height="50"/></clipPath>
<clipPath id="cs4"><rect x="3" y="-6" width="1" height="50"/></clipPath>
<clipPath id="cs5"><rect x="4" y="-6" width="1" height="50"/></clipPath>
<clipPath id="cs6"><rect x="5" y="-6" width="1" height="50"/></clipPath>
<clipPath id="cs7"><rect x="6" y="-6" width="1" height="50"/></clipPath>
<clipPath id="cs8"><rect x="7" y="-6" width="1" height="50"/></clipPath>
<clipPath id="cs9"><rect x="8" y="-6" width="1" height="50"/></clipPath>
<clipPath id="cs10"><rect x="9" y="-6" width="1" height="50"/></clipPath>
<clipPath id="cs11"><rect x="10" y="-6" width="1" height="50"/></clipPath>
<clipPath id="cs12"><rect x="11" y="-6" width="1" height="50"/></clipPath>
<clipPath id="cs13"><rect x="12" y="-6" width="1" height="50"/></clipPath>
<clipPath id="cs14"><rect x="13" y="-6" width="1" height="50"/></clipPath>
<clipPath id="cs15"><rect x="14" y="-6" width="1" height="50"/></clipPath>
<clipPath id="cs16"><rect x="15" y="-6" width="1" height="50"/></clipPath>
<clipPath id="cs17"><rect x="16" y="-6" width="1" height="50"/></clipPath>
<clipPath id="cs18"><rect x="17" y="-6" width="1" height="50"/></clipPath>
<clipPath id="cs19"><rect x="18" y="-6" width="1" height="50"/></clipPath>
<clipPath id="cs20"><rect x="19" y="-6" width="1" height="50"/></clipPath>
<clipPath id="cs21"><rect x="20" y="-6" width="1" height="50"/></clipPath>
<clipPath id="cs22"><rect x="21" y="-6" width="1" height="50"/></clipPath>
<clipPath id="cs23"><rect x="22" y="-6" width="1" height="50"/></clipPath>
<clipPath id="cs24"><rect x="23" y="-6" width="1" height="50"/></clipPath>
<clipPath id="cs25"><rect x="24" y="-6" width="1" height="50"/></clipPath>
<clipPath id="cs26"><rect x="25" y="-6" width="1" height="50"/></clipPath>
<clipPath id="cs27"><rect x="26" y="-6" width="1" height="50"/></clipPath>
<clipPath id="cs28"><rect x="27" y="-6" width="1" height="50"/></clipPath>
<clipPath id="cs29"><rect x="28" y="-6" width="1" height="50"/></clipPath>
<clipPath id="cs30"><rect x="29" y="-6" width="1" height="50"/></clipPath>
<clipPath id="cs31"><rect x="30" y="-6" width="1" height="50"/></clipPath>
<clipPath id="cs32"><rect x="31" y="-6" width="1" height="50"/></clipPath>
<clipPath id="cs33"><rect x="32" y="-6" width="1" height="50"/></clipPath>
<clipPath id="cs34"><rect x="33" y="-6" width="1" height="50"/></clipPath>
<clipPath id="cs35"><rect x="34" y="-6" width="1" height="50"/></clipPath>
<clipPath id="cs36"><rect x="35" y="-6" width="1" height="50"/></clipPath>
<clipPath id="cs37"><rect x="36" y="-6" width="1" height="50"/></clipPath>
<clipPath id="cs38"><rect x="37" y="-6" width="1" height="50"/></clipPath>
<clipPath id="cs39"><rect x="38" y="-6" width="1" height="50"/></clipPath>
<clipPath id="cs40"><rect x="39" y="-6" width="1" height="50"/></clipPath>
<clipPath id="cs41"><rect x="40" y="-6" width="1" height="50"/></clipPath>
<clipPath id="cs42"><rect x="41" y="-6" width="1" height="50"/></clipPath>
<clipPath id="cs43"><rect x="42" y="-6" width="1" height="50"/></clipPath>
<clipPath id="cs44"><rect x="43" y="-6" width="1" height="50"/></clipPath>
<clipPath id="cs45"><rect x="44" y="-6" width="1" height="50"/></clipPath>
<clipPath id="cs46"><rect x="45" y="-6" width="1" height="50"/></clipPath>
<clipPath id="cs47"><rect x="46" y="-6" width="1" height="50"/></clipPath>
<clipPath id="cs48"><rect x="47" y="-6" width="1" height="50"/></clipPath>
<clipPath id="cs49"><rect x="48" y="-6" width="1" height="50"/></clipPath>
<clipPath id="cs50"><rect x="49" y="-6" width="1" height="50"/></clipPath>
<clipPath id="cs51"><rect x="50" y="-6" width="1" height="50"/></clipPath>
<clipPath id="cs52"><rect x="51" y="-6" width="1" height="50"/></clipPath>
<clipPath id="cs53"><rect x="52" y="-6" width="1" height="50"/></clipPath>
<clipPath id="cs54"><rect x="53" y="-6" width="1" height="50"/></clipPath>
<clipPath id="cs55"><rect x="54" y="-6" width="1" height="50"/></clipPath>
<clipPath id="cs56"><rect x="55" y="-6" width="1" height="50"/></clipPath>
<clipPath id="cs57"><rect x="56" y="-6" width="1" height="50"/></clipPath>
<clipPath id="cs58"><rect x="57" y="-6" width="1" height="50"/></clipPath>
<clipPath id="cs59"><rect x="58" y="-6" width="1" height="50"/></clipPath>
<clipPath id="cs60"><rect x="59" y="-6" width="1" height="50"/></clipPath>
<clipPath id="cs61"><rect x="60" y="-6" width="1" height="50"/></clipPath>
<clipPath id="cs62"><rect x="61" y="-6" width="1" height="50"/></clipPath>
<clipPath id="cs63"><rect x="62" y="-6" width="1" height="50"/></clipPath>
<clipPath id="cs64"><rect x="63" y="-6" width="1" height="50"/></clipPath>
<clipPath id="cs65"><rect x="64" y="-6" width="1" height="50"/></clipPath>
<clipPath id="cs66"><rect x="65" y="-6" width="1" height="50"/></clipPath>
</defs>
<g><use href="#fl_us" transform="translate(87 616.30)" clip-path="url(#cs0)"/><use href="#fl_us" transform="translate(87 616.32)" clip-path="url(#cs1)"/><use href="#fl_us" transform="translate(87 616.42)" clip-path="url(#cs2)"/><use href="#fl_us" transform="translate(87 616.59)" clip-path="url(#cs3)"/><use href="#fl_us" transform="translate(87 616.79)" clip-path="url(#cs4)"/><use href="#fl_us" transform="translate(87 617.02)" clip-path="url(#cs5)"/><use href="#fl_us" transform="translate(87 617.26)" clip-path="url(#cs6)"/><use href="#fl_us" transform="translate(87 617.49)" clip-path="url(#cs7)"/><use href="#fl_us" transform="translate(87 617.70)" clip-path="url(#cs8)"/><use href="#fl_us" transform="translate(87 617.87)" clip-path="url(#cs9)"/><use href="#fl_us" transform="translate(87 617.97)" clip-path="url(#cs10)"/><use href="#fl_us" transform="translate(87 618.01)" clip-path="url(#cs11)"/><use href="#fl_us" transform="translate(87 618.01)" clip-path="url(#cs12)"/><use href="#fl_us" transform="translate(87 617.99)" clip-path="url(#cs13)"/><use href="#fl_us" transform="translate(87 617.96)" clip-path="url(#cs14)"/><use href="#fl_us" transform="translate(87 617.91)" clip-path="url(#cs15)"/><use href="#fl_us" transform="translate(87 617.86)" clip-path="url(#cs16)"/><use href="#fl_us" transform="translate(87 617.78)" clip-path="url(#cs17)"/><use href="#fl_us" transform="translate(87 617.70)" clip-path="url(#cs18)"/><use href="#fl_us" transform="translate(87 617.61)" clip-path="url(#cs19)"/><use href="#fl_us" transform="translate(87 617.51)" clip-path="url(#cs20)"/><use href="#fl_us" transform="translate(87 617.41)" clip-path="url(#cs21)"/><use href="#fl_us" transform="translate(87 617.30)" clip-path="url(#cs22)"/><use href="#fl_us" transform="translate(87 617.19)" clip-path="url(#cs23)"/><use href="#fl_us" transform="translate(87 617.08)" clip-path="url(#cs24)"/><use href="#fl_us" transform="translate(87 616.96)" clip-path="url(#cs25)"/><use href="#fl_us" transform="translate(87 616.85)" clip-path="url(#cs26)"/><use href="#fl_us" transform="translate(87 616.74)" clip-path="url(#cs27)"/><use href="#fl_us" transform="translate(87 616.61)" clip-path="url(#cs28)"/><use href="#fl_us" transform="translate(87 616.47)" clip-path="url(#cs29)"/><use href="#fl_us" transform="translate(87 616.33)" clip-path="url(#cs30)"/><use href="#fl_us" transform="translate(87 616.18)" clip-path="url(#cs31)"/><use href="#fl_us" transform="translate(87 616.02)" clip-path="url(#cs32)"/><use href="#fl_us" transform="translate(87 615.86)" clip-path="url(#cs33)"/><use href="#fl_us" transform="translate(87 615.70)" clip-path="url(#cs34)"/><use href="#fl_us" transform="translate(87 615.54)" clip-path="url(#cs35)"/><use href="#fl_us" transform="translate(87 615.38)" clip-path="url(#cs36)"/><use href="#fl_us" transform="translate(87 615.23)" clip-path="url(#cs37)"/><use href="#fl_us" transform="translate(87 615.09)" clip-path="url(#cs38)"/><use href="#fl_us" transform="translate(87 614.96)" clip-path="url(#cs39)"/><use href="#fl_us" transform="translate(87 614.84)" clip-path="url(#cs40)"/><use href="#fl_us" transform="translate(87 614.73)" clip-path="url(#cs41)"/><use href="#fl_us" transform="translate(87 614.64)" clip-path="url(#cs42)"/><use href="#fl_us" transform="translate(87 614.53)" clip-path="url(#cs43)"/><use href="#fl_us" transform="translate(87 614.43)" clip-path="url(#cs44)"/><use href="#fl_us" transform="translate(87 614.35)" clip-path="url(#cs45)"/><use href="#fl_us" transform="translate(87 614.29)" clip-path="url(#cs46)"/><use href="#fl_us" transform="translate(87 614.24)" clip-path="url(#cs47)"/><use href="#fl_us" transform="translate(87 614.21)" clip-path="url(#cs48)"/><use href="#fl_us" transform="translate(87 614.20)" clip-path="url(#cs49)"/><use href="#fl_us" transform="translate(87 614.20)" clip-path="url(#cs50)"/><use href="#fl_us" transform="translate(87 614.22)" clip-path="url(#cs51)"/><use href="#fl_us" transform="translate(87 614.25)" clip-path="url(#cs52)"/><use href="#fl_us" transform="translate(87 614.30)" clip-path="url(#cs53)"/><use href="#fl_us" transform="translate(87 614.36)" clip-path="url(#cs54)"/><use href="#fl_us" transform="translate(87 614.46)" clip-path="url(#cs55)"/><use href="#fl_us" transform="translate(87 614.58)" clip-path="url(#cs56)"/><use href="#fl_us" transform="translate(87 614.71)" clip-path="url(#cs57)"/><use href="#fl_us" transform="translate(87 614.87)" clip-path="url(#cs58)"/><use href="#fl_us" transform="translate(87 615.03)" clip-path="url(#cs59)"/><use href="#fl_us" transform="translate(87 615.20)" clip-path="url(#cs60)"/><use href="#fl_us" transform="translate(87 615.36)" clip-path="url(#cs61)"/><use href="#fl_us" transform="translate(87 615.53)" clip-path="url(#cs62)"/><use href="#fl_us" transform="translate(87 615.68)" clip-path="url(#cs63)"/><use href="#fl_us" transform="translate(87 615.70)" clip-path="url(#cs64)"/><use href="#fl_us" transform="translate(87 615.70)" clip-path="url(#cs65)"/><use href="#fl_us" transform="translate(87 615.70)" clip-path="url(#cs66)"/></g>
<g><use href="#fl_jp" transform="translate(180 616.30)" clip-path="url(#cs0)"/><use href="#fl_jp" transform="translate(180 616.32)" clip-path="url(#cs1)"/><use href="#fl_jp" transform="translate(180 616.42)" clip-path="url(#cs2)"/><use href="#fl_jp" transform="translate(180 616.59)" clip-path="url(#cs3)"/><use href="#fl_jp" transform="translate(180 616.79)" clip-path="url(#cs4)"/><use href="#fl_jp" transform="translate(180 617.02)" clip-path="url(#cs5)"/><use href="#fl_jp" transform="translate(180 617.26)" clip-path="url(#cs6)"/><use href="#fl_jp" transform="translate(180 617.49)" clip-path="url(#cs7)"/><use href="#fl_jp" transform="translate(180 617.70)" clip-path="url(#cs8)"/><use href="#fl_jp" transform="translate(180 617.87)" clip-path="url(#cs9)"/><use href="#fl_jp" transform="translate(180 617.97)" clip-path="url(#cs10)"/><use href="#fl_jp" transform="translate(180 618.01)" clip-path="url(#cs11)"/><use href="#fl_jp" transform="translate(180 618.01)" clip-path="url(#cs12)"/><use href="#fl_jp" transform="translate(180 617.99)" clip-path="url(#cs13)"/><use href="#fl_jp" transform="translate(180 617.96)" clip-path="url(#cs14)"/><use href="#fl_jp" transform="translate(180 617.91)" clip-path="url(#cs15)"/><use href="#fl_jp" transform="translate(180 617.86)" clip-path="url(#cs16)"/><use href="#fl_jp" transform="translate(180 617.78)" clip-path="url(#cs17)"/><use href="#fl_jp" transform="translate(180 617.70)" clip-path="url(#cs18)"/><use href="#fl_jp" transform="translate(180 617.61)" clip-path="url(#cs19)"/><use href="#fl_jp" transform="translate(180 617.51)" clip-path="url(#cs20)"/><use href="#fl_jp" transform="translate(180 617.41)" clip-path="url(#cs21)"/><use href="#fl_jp" transform="translate(180 617.30)" clip-path="url(#cs22)"/><use href="#fl_jp" transform="translate(180 617.19)" clip-path="url(#cs23)"/><use href="#fl_jp" transform="translate(180 617.08)" clip-path="url(#cs24)"/><use href="#fl_jp" transform="translate(180 616.96)" clip-path="url(#cs25)"/><use href="#fl_jp" transform="translate(180 616.85)" clip-path="url(#cs26)"/><use href="#fl_jp" transform="translate(180 616.74)" clip-path="url(#cs27)"/><use href="#fl_jp" transform="translate(180 616.61)" clip-path="url(#cs28)"/><use href="#fl_jp" transform="translate(180 616.47)" clip-path="url(#cs29)"/><use href="#fl_jp" transform="translate(180 616.33)" clip-path="url(#cs30)"/><use href="#fl_jp" transform="translate(180 616.18)" clip-path="url(#cs31)"/><use href="#fl_jp" transform="translate(180 616.02)" clip-path="url(#cs32)"/><use href="#fl_jp" transform="translate(180 615.86)" clip-path="url(#cs33)"/><use href="#fl_jp" transform="translate(180 615.70)" clip-path="url(#cs34)"/><use href="#fl_jp" transform="translate(180 615.54)" clip-path="url(#cs35)"/><use href="#fl_jp" transform="translate(180 615.38)" clip-path="url(#cs36)"/><use href="#fl_jp" transform="translate(180 615.23)" clip-path="url(#cs37)"/><use href="#fl_jp" transform="translate(180 615.09)" clip-path="url(#cs38)"/><use href="#fl_jp" transform="translate(180 614.96)" clip-path="url(#cs39)"/><use href="#fl_jp" transform="translate(180 614.84)" clip-path="url(#cs40)"/><use href="#fl_jp" transform="translate(180 614.73)" clip-path="url(#cs41)"/><use href="#fl_jp" transform="translate(180 614.64)" clip-path="url(#cs42)"/><use href="#fl_jp" transform="translate(180 614.53)" clip-path="url(#cs43)"/><use href="#fl_jp" transform="translate(180 614.43)" clip-path="url(#cs44)"/><use href="#fl_jp" transform="translate(180 614.35)" clip-path="url(#cs45)"/><use href="#fl_jp" transform="translate(180 614.29)" clip-path="url(#cs46)"/><use href="#fl_jp" transform="translate(180 614.24)" clip-path="url(#cs47)"/><use href="#fl_jp" transform="translate(180 614.21)" clip-path="url(#cs48)"/><use href="#fl_jp" transform="translate(180 614.20)" clip-path="url(#cs49)"/><use href="#fl_jp" transform="translate(180 614.20)" clip-path="url(#cs50)"/><use href="#fl_jp" transform="translate(180 614.22)" clip-path="url(#cs51)"/><use href="#fl_jp" transform="translate(180 614.25)" clip-path="url(#cs52)"/><use href="#fl_jp" transform="translate(180 614.30)" clip-path="url(#cs53)"/><use href="#fl_jp" transform="translate(180 614.36)" clip-path="url(#cs54)"/><use href="#fl_jp" transform="translate(180 614.46)" clip-path="url(#cs55)"/><use href="#fl_jp" transform="translate(180 614.58)" clip-path="url(#cs56)"/><use href="#fl_jp" transform="translate(180 614.71)" clip-path="url(#cs57)"/><use href="#fl_jp" transform="translate(180 614.87)" clip-path="url(#cs58)"/><use href="#fl_jp" transform="translate(180 615.03)" clip-path="url(#cs59)"/><use href="#fl_jp" transform="translate(180 615.20)" clip-path="url(#cs60)"/><use href="#fl_jp" transform="translate(180 615.36)" clip-path="url(#cs61)"/><use href="#fl_jp" transform="translate(180 615.53)" clip-path="url(#cs62)"/><use href="#fl_jp" transform="translate(180 615.68)" clip-path="url(#cs63)"/><use href="#fl_jp" transform="translate(180 615.70)" clip-path="url(#cs64)"/><use href="#fl_jp" transform="translate(180 615.70)" clip-path="url(#cs65)"/><use href="#fl_jp" transform="translate(180 615.70)" clip-path="url(#cs66)"/></g>
<g><use href="#fl_au" transform="translate(272 616.30)" clip-path="url(#cs0)"/><use href="#fl_au" transform="translate(272 616.32)" clip-path="url(#cs1)"/><use href="#fl_au" transform="translate(272 616.42)" clip-path="url(#cs2)"/><use href="#fl_au" transform="translate(272 616.59)" clip-path="url(#cs3)"/><use href="#fl_au" transform="translate(272 616.79)" clip-path="url(#cs4)"/><use href="#fl_au" transform="translate(272 617.02)" clip-path="url(#cs5)"/><use href="#fl_au" transform="translate(272 617.26)" clip-path="url(#cs6)"/><use href="#fl_au" transform="translate(272 617.49)" clip-path="url(#cs7)"/><use href="#fl_au" transform="translate(272 617.70)" clip-path="url(#cs8)"/><use href="#fl_au" transform="translate(272 617.87)" clip-path="url(#cs9)"/><use href="#fl_au" transform="translate(272 617.97)" clip-path="url(#cs10)"/><use href="#fl_au" transform="translate(272 618.01)" clip-path="url(#cs11)"/><use href="#fl_au" transform="translate(272 618.01)" clip-path="url(#cs12)"/><use href="#fl_au" transform="translate(272 617.99)" clip-path="url(#cs13)"/><use href="#fl_au" transform="translate(272 617.96)" clip-path="url(#cs14)"/><use href="#fl_au" transform="translate(272 617.91)" clip-path="url(#cs15)"/><use href="#fl_au" transform="translate(272 617.86)" clip-path="url(#cs16)"/><use href="#fl_au" transform="translate(272 617.78)" clip-path="url(#cs17)"/><use href="#fl_au" transform="translate(272 617.70)" clip-path="url(#cs18)"/><use href="#fl_au" transform="translate(272 617.61)" clip-path="url(#cs19)"/><use href="#fl_au" transform="translate(272 617.51)" clip-path="url(#cs20)"/><use href="#fl_au" transform="translate(272 617.41)" clip-path="url(#cs21)"/><use href="#fl_au" transform="translate(272 617.30)" clip-path="url(#cs22)"/><use href="#fl_au" transform="translate(272 617.19)" clip-path="url(#cs23)"/><use href="#fl_au" transform="translate(272 617.08)" clip-path="url(#cs24)"/><use href="#fl_au" transform="translate(272 616.96)" clip-path="url(#cs25)"/><use href="#fl_au" transform="translate(272 616.85)" clip-path="url(#cs26)"/><use href="#fl_au" transform="translate(272 616.74)" clip-path="url(#cs27)"/><use href="#fl_au" transform="translate(272 616.61)" clip-path="url(#cs28)"/><use href="#fl_au" transform="translate(272 616.47)" clip-path="url(#cs29)"/><use href="#fl_au" transform="translate(272 616.33)" clip-path="url(#cs30)"/><use href="#fl_au" transform="translate(272 616.18)" clip-path="url(#cs31)"/><use href="#fl_au" transform="translate(272 616.02)" clip-path="url(#cs32)"/><use href="#fl_au" transform="translate(272 615.86)" clip-path="url(#cs33)"/><use href="#fl_au" transform="translate(272 615.70)" clip-path="url(#cs34)"/><use href="#fl_au" transform="translate(272 615.54)" clip-path="url(#cs35)"/><use href="#fl_au" transform="translate(272 615.38)" clip-path="url(#cs36)"/><use href="#fl_au" transform="translate(272 615.23)" clip-path="url(#cs37)"/><use href="#fl_au" transform="translate(272 615.09)" clip-path="url(#cs38)"/><use href="#fl_au" transform="translate(272 614.96)" clip-path="url(#cs39)"/><use href="#fl_au" transform="translate(272 614.84)" clip-path="url(#cs40)"/><use href="#fl_au" transform="translate(272 614.73)" clip-path="url(#cs41)"/><use href="#fl_au" transform="translate(272 614.64)" clip-path="url(#cs42)"/><use href="#fl_au" transform="translate(272 614.53)" clip-path="url(#cs43)"/><use href="#fl_au" transform="translate(272 614.43)" clip-path="url(#cs44)"/><use href="#fl_au" transform="translate(272 614.35)" clip-path="url(#cs45)"/><use href="#fl_au" transform="translate(272 614.29)" clip-path="url(#cs46)"/><use href="#fl_au" transform="translate(272 614.24)" clip-path="url(#cs47)"/><use href="#fl_au" transform="translate(272 614.21)" clip-path="url(#cs48)"/><use href="#fl_au" transform="translate(272 614.20)" clip-path="url(#cs49)"/><use href="#fl_au" transform="translate(272 614.20)" clip-path="url(#cs50)"/><use href="#fl_au" transform="translate(272 614.22)" clip-path="url(#cs51)"/><use href="#fl_au" transform="translate(272 614.25)" clip-path="url(#cs52)"/><use href="#fl_au" transform="translate(272 614.30)" clip-path="url(#cs53)"/><use href="#fl_au" transform="translate(272 614.36)" clip-path="url(#cs54)"/><use href="#fl_au" transform="translate(272 614.46)" clip-path="url(#cs55)"/><use href="#fl_au" transform="translate(272 614.58)" clip-path="url(#cs56)"/><use href="#fl_au" transform="translate(272 614.71)" clip-path="url(#cs57)"/><use href="#fl_au" transform="translate(272 614.87)" clip-path="url(#cs58)"/><use href="#fl_au" transform="translate(272 615.03)" clip-path="url(#cs59)"/><use href="#fl_au" transform="translate(272 615.20)" clip-path="url(#cs60)"/><use href="#fl_au" transform="translate(272 615.36)" clip-path="url(#cs61)"/><use href="#fl_au" transform="translate(272 615.53)" clip-path="url(#cs62)"/><use href="#fl_au" transform="translate(272 615.68)" clip-path="url(#cs63)"/><use href="#fl_au" transform="translate(272 615.70)" clip-path="url(#cs64)"/><use href="#fl_au" transform="translate(272 615.70)" clip-path="url(#cs65)"/><use href="#fl_au" transform="translate(272 615.70)" clip-path="url(#cs66)"/></g>
<g><use href="#fl_es" transform="translate(365 616.30)" clip-path="url(#cs0)"/><use href="#fl_es" transform="translate(365 616.32)" clip-path="url(#cs1)"/><use href="#fl_es" transform="translate(365 616.42)" clip-path="url(#cs2)"/><use href="#fl_es" transform="translate(365 616.59)" clip-path="url(#cs3)"/><use href="#fl_es" transform="translate(365 616.79)" clip-path="url(#cs4)"/><use href="#fl_es" transform="translate(365 617.02)" clip-path="url(#cs5)"/><use href="#fl_es" transform="translate(365 617.26)" clip-path="url(#cs6)"/><use href="#fl_es" transform="translate(365 617.49)" clip-path="url(#cs7)"/><use href="#fl_es" transform="translate(365 617.70)" clip-path="url(#cs8)"/><use href="#fl_es" transform="translate(365 617.87)" clip-path="url(#cs9)"/><use href="#fl_es" transform="translate(365 617.97)" clip-path="url(#cs10)"/><use href="#fl_es" transform="translate(365 618.01)" clip-path="url(#cs11)"/><use href="#fl_es" transform="translate(365 618.01)" clip-path="url(#cs12)"/><use href="#fl_es" transform="translate(365 617.99)" clip-path="url(#cs13)"/><use href="#fl_es" transform="translate(365 617.96)" clip-path="url(#cs14)"/><use href="#fl_es" transform="translate(365 617.91)" clip-path="url(#cs15)"/><use href="#fl_es" transform="translate(365 617.86)" clip-path="url(#cs16)"/><use href="#fl_es" transform="translate(365 617.78)" clip-path="url(#cs17)"/><use href="#fl_es" transform="translate(365 617.70)" clip-path="url(#cs18)"/><use href="#fl_es" transform="translate(365 617.61)" clip-path="url(#cs19)"/><use href="#fl_es" transform="translate(365 617.51)" clip-path="url(#cs20)"/><use href="#fl_es" transform="translate(365 617.41)" clip-path="url(#cs21)"/><use href="#fl_es" transform="translate(365 617.30)" clip-path="url(#cs22)"/><use href="#fl_es" transform="translate(365 617.19)" clip-path="url(#cs23)"/><use href="#fl_es" transform="translate(365 617.08)" clip-path="url(#cs24)"/><use href="#fl_es" transform="translate(365 616.96)" clip-path="url(#cs25)"/><use href="#fl_es" transform="translate(365 616.85)" clip-path="url(#cs26)"/><use href="#fl_es" transform="translate(365 616.74)" clip-path="url(#cs27)"/><use href="#fl_es" transform="translate(365 616.61)" clip-path="url(#cs28)"/><use href="#fl_es" transform="translate(365 616.47)" clip-path="url(#cs29)"/><use href="#fl_es" transform="translate(365 616.33)" clip-path="url(#cs30)"/><use href="#fl_es" transform="translate(365 616.18)" clip-path="url(#cs31)"/><use href="#fl_es" transform="translate(365 616.02)" clip-path="url(#cs32)"/><use href="#fl_es" transform="translate(365 615.86)" clip-path="url(#cs33)"/><use href="#fl_es" transform="translate(365 615.70)" clip-path="url(#cs34)"/><use href="#fl_es" transform="translate(365 615.54)" clip-path="url(#cs35)"/><use href="#fl_es" transform="translate(365 615.38)" clip-path="url(#cs36)"/><use href="#fl_es" transform="translate(365 615.23)" clip-path="url(#cs37)"/><use href="#fl_es" transform="translate(365 615.09)" clip-path="url(#cs38)"/><use href="#fl_es" transform="translate(365 614.96)" clip-path="url(#cs39)"/><use href="#fl_es" transform="translate(365 614.84)" clip-path="url(#cs40)"/><use href="#fl_es" transform="translate(365 614.73)" clip-path="url(#cs41)"/><use href="#fl_es" transform="translate(365 614.64)" clip-path="url(#cs42)"/><use href="#fl_es" transform="translate(365 614.53)" clip-path="url(#cs43)"/><use href="#fl_es" transform="translate(365 614.43)" clip-path="url(#cs44)"/><use href="#fl_es" transform="translate(365 614.35)" clip-path="url(#cs45)"/><use href="#fl_es" transform="translate(365 614.29)" clip-path="url(#cs46)"/><use href="#fl_es" transform="translate(365 614.24)" clip-path="url(#cs47)"/><use href="#fl_es" transform="translate(365 614.21)" clip-path="url(#cs48)"/><use href="#fl_es" transform="translate(365 614.20)" clip-path="url(#cs49)"/><use href="#fl_es" transform="translate(365 614.20)" clip-path="url(#cs50)"/><use href="#fl_es" transform="translate(365 614.22)" clip-path="url(#cs51)"/><use href="#fl_es" transform="translate(365 614.25)" clip-path="url(#cs52)"/><use href="#fl_es" transform="translate(365 614.30)" clip-path="url(#cs53)"/><use href="#fl_es" transform="translate(365 614.36)" clip-path="url(#cs54)"/><use href="#fl_es" transform="translate(365 614.46)" clip-path="url(#cs55)"/><use href="#fl_es" transform="translate(365 614.58)" clip-path="url(#cs56)"/><use href="#fl_es" transform="translate(365 614.71)" clip-path="url(#cs57)"/><use href="#fl_es" transform="translate(365 614.87)" clip-path="url(#cs58)"/><use href="#fl_es" transform="translate(365 615.03)" clip-path="url(#cs59)"/><use href="#fl_es" transform="translate(365 615.20)" clip-path="url(#cs60)"/><use href="#fl_es" transform="translate(365 615.36)" clip-path="url(#cs61)"/><use href="#fl_es" transform="translate(365 615.53)" clip-path="url(#cs62)"/><use href="#fl_es" transform="translate(365 615.68)" clip-path="url(#cs63)"/><use href="#fl_es" transform="translate(365 615.70)" clip-path="url(#cs64)"/><use href="#fl_es" transform="translate(365 615.70)" clip-path="url(#cs65)"/><use href="#fl_es" transform="translate(365 615.70)" clip-path="url(#cs66)"/></g>
<g><use href="#fl_ca" transform="translate(458 616.30)" clip-path="url(#cs0)"/><use href="#fl_ca" transform="translate(458 616.32)" clip-path="url(#cs1)"/><use href="#fl_ca" transform="translate(458 616.42)" clip-path="url(#cs2)"/><use href="#fl_ca" transform="translate(458 616.59)" clip-path="url(#cs3)"/><use href="#fl_ca" transform="translate(458 616.79)" clip-path="url(#cs4)"/><use href="#fl_ca" transform="translate(458 617.02)" clip-path="url(#cs5)"/><use href="#fl_ca" transform="translate(458 617.26)" clip-path="url(#cs6)"/><use href="#fl_ca" transform="translate(458 617.49)" clip-path="url(#cs7)"/><use href="#fl_ca" transform="translate(458 617.70)" clip-path="url(#cs8)"/><use href="#fl_ca" transform="translate(458 617.87)" clip-path="url(#cs9)"/><use href="#fl_ca" transform="translate(458 617.97)" clip-path="url(#cs10)"/><use href="#fl_ca" transform="translate(458 618.01)" clip-path="url(#cs11)"/><use href="#fl_ca" transform="translate(458 618.01)" clip-path="url(#cs12)"/><use href="#fl_ca" transform="translate(458 617.99)" clip-path="url(#cs13)"/><use href="#fl_ca" transform="translate(458 617.96)" clip-path="url(#cs14)"/><use href="#fl_ca" transform="translate(458 617.91)" clip-path="url(#cs15)"/><use href="#fl_ca" transform="translate(458 617.86)" clip-path="url(#cs16)"/><use href="#fl_ca" transform="translate(458 617.78)" clip-path="url(#cs17)"/><use href="#fl_ca" transform="translate(458 617.70)" clip-path="url(#cs18)"/><use href="#fl_ca" transform="translate(458 617.61)" clip-path="url(#cs19)"/><use href="#fl_ca" transform="translate(458 617.51)" clip-path="url(#cs20)"/><use href="#fl_ca" transform="translate(458 617.41)" clip-path="url(#cs21)"/><use href="#fl_ca" transform="translate(458 617.30)" clip-path="url(#cs22)"/><use href="#fl_ca" transform="translate(458 617.19)" clip-path="url(#cs23)"/><use href="#fl_ca" transform="translate(458 617.08)" clip-path="url(#cs24)"/><use href="#fl_ca" transform="translate(458 616.96)" clip-path="url(#cs25)"/><use href="#fl_ca" transform="translate(458 616.85)" clip-path="url(#cs26)"/><use href="#fl_ca" transform="translate(458 616.74)" clip-path="url(#cs27)"/><use href="#fl_ca" transform="translate(458 616.61)" clip-path="url(#cs28)"/><use href="#fl_ca" transform="translate(458 616.47)" clip-path="url(#cs29)"/><use href="#fl_ca" transform="translate(458 616.33)" clip-path="url(#cs30)"/><use href="#fl_ca" transform="translate(458 616.18)" clip-path="url(#cs31)"/><use href="#fl_ca" transform="translate(458 616.02)" clip-path="url(#cs32)"/><use href="#fl_ca" transform="translate(458 615.86)" clip-path="url(#cs33)"/><use href="#fl_ca" transform="translate(458 615.70)" clip-path="url(#cs34)"/><use href="#fl_ca" transform="translate(458 615.54)" clip-path="url(#cs35)"/><use href="#fl_ca" transform="translate(458 615.38)" clip-path="url(#cs36)"/><use href="#fl_ca" transform="translate(458 615.23)" clip-path="url(#cs37)"/><use href="#fl_ca" transform="translate(458 615.09)" clip-path="url(#cs38)"/><use href="#fl_ca" transform="translate(458 614.96)" clip-path="url(#cs39)"/><use href="#fl_ca" transform="translate(458 614.84)" clip-path="url(#cs40)"/><use href="#fl_ca" transform="translate(458 614.73)" clip-path="url(#cs41)"/><use href="#fl_ca" transform="translate(458 614.64)" clip-path="url(#cs42)"/><use href="#fl_ca" transform="translate(458 614.53)" clip-path="url(#cs43)"/><use href="#fl_ca" transform="translate(458 614.43)" clip-path="url(#cs44)"/><use href="#fl_ca" transform="translate(458 614.35)" clip-path="url(#cs45)"/><use href="#fl_ca" transform="translate(458 614.29)" clip-path="url(#cs46)"/><use href="#fl_ca" transform="translate(458 614.24)" clip-path="url(#cs47)"/><use href="#fl_ca" transform="translate(458 614.21)" clip-path="url(#cs48)"/><use href="#fl_ca" transform="translate(458 614.20)" clip-path="url(#cs49)"/><use href="#fl_ca" transform="translate(458 614.20)" clip-path="url(#cs50)"/><use href="#fl_ca" transform="translate(458 614.22)" clip-path="url(#cs51)"/><use href="#fl_ca" transform="translate(458 614.25)" clip-path="url(#cs52)"/><use href="#fl_ca" transform="translate(458 614.30)" clip-path="url(#cs53)"/><use href="#fl_ca" transform="translate(458 614.36)" clip-path="url(#cs54)"/><use href="#fl_ca" transform="translate(458 614.46)" clip-path="url(#cs55)"/><use href="#fl_ca" transform="translate(458 614.58)" clip-path="url(#cs56)"/><use href="#fl_ca" transform="translate(458 614.71)" clip-path="url(#cs57)"/><use href="#fl_ca" transform="translate(458 614.87)" clip-path="url(#cs58)"/><use href="#fl_ca" transform="translate(458 615.03)" clip-path="url(#cs59)"/><use href="#fl_ca" transform="translate(458 615.20)" clip-path="url(#cs60)"/><use href="#fl_ca" transform="translate(458 615.36)" clip-path="url(#cs61)"/><use href="#fl_ca" transform="translate(458 615.53)" clip-path="url(#cs62)"/><use href="#fl_ca" transform="translate(458 615.68)" clip-path="url(#cs63)"/><use href="#fl_ca" transform="translate(458 615.70)" clip-path="url(#cs64)"/><use href="#fl_ca" transform="translate(458 615.70)" clip-path="url(#cs65)"/><use href="#fl_ca" transform="translate(458 615.70)" clip-path="url(#cs66)"/></g>
<g><use href="#fl_it" transform="translate(551 616.30)" clip-path="url(#cs0)"/><use href="#fl_it" transform="translate(551 616.32)" clip-path="url(#cs1)"/><use href="#fl_it" transform="translate(551 616.42)" clip-path="url(#cs2)"/><use href="#fl_it" transform="translate(551 616.59)" clip-path="url(#cs3)"/><use href="#fl_it" transform="translate(551 616.79)" clip-path="url(#cs4)"/><use href="#fl_it" transform="translate(551 617.02)" clip-path="url(#cs5)"/><use href="#fl_it" transform="translate(551 617.26)" clip-path="url(#cs6)"/><use href="#fl_it" transform="translate(551 617.49)" clip-path="url(#cs7)"/><use href="#fl_it" transform="translate(551 617.70)" clip-path="url(#cs8)"/><use href="#fl_it" transform="translate(551 617.87)" clip-path="url(#cs9)"/><use href="#fl_it" transform="translate(551 617.97)" clip-path="url(#cs10)"/><use href="#fl_it" transform="translate(551 618.01)" clip-path="url(#cs11)"/><use href="#fl_it" transform="translate(551 618.01)" clip-path="url(#cs12)"/><use href="#fl_it" transform="translate(551 617.99)" clip-path="url(#cs13)"/><use href="#fl_it" transform="translate(551 617.96)" clip-path="url(#cs14)"/><use href="#fl_it" transform="translate(551 617.91)" clip-path="url(#cs15)"/><use href="#fl_it" transform="translate(551 617.86)" clip-path="url(#cs16)"/><use href="#fl_it" transform="translate(551 617.78)" clip-path="url(#cs17)"/><use href="#fl_it" transform="translate(551 617.70)" clip-path="url(#cs18)"/><use href="#fl_it" transform="translate(551 617.61)" clip-path="url(#cs19)"/><use href="#fl_it" transform="translate(551 617.51)" clip-path="url(#cs20)"/><use href="#fl_it" transform="translate(551 617.41)" clip-path="url(#cs21)"/><use href="#fl_it" transform="translate(551 617.30)" clip-path="url(#cs22)"/><use href="#fl_it" transform="translate(551 617.19)" clip-path="url(#cs23)"/><use href="#fl_it" transform="translate(551 617.08)" clip-path="url(#cs24)"/><use href="#fl_it" transform="translate(551 616.96)" clip-path="url(#cs25)"/><use href="#fl_it" transform="translate(551 616.85)" clip-path="url(#cs26)"/><use href="#fl_it" transform="translate(551 616.74)" clip-path="url(#cs27)"/><use href="#fl_it" transform="translate(551 616.61)" clip-path="url(#cs28)"/><use href="#fl_it" transform="translate(551 616.47)" clip-path="url(#cs29)"/><use href="#fl_it" transform="translate(551 616.33)" clip-path="url(#cs30)"/><use href="#fl_it" transform="translate(551 616.18)" clip-path="url(#cs31)"/><use href="#fl_it" transform="translate(551 616.02)" clip-path="url(#cs32)"/><use href="#fl_it" transform="translate(551 615.86)" clip-path="url(#cs33)"/><use href="#fl_it" transform="translate(551 615.70)" clip-path="url(#cs34)"/><use href="#fl_it" transform="translate(551 615.54)" clip-path="url(#cs35)"/><use href="#fl_it" transform="translate(551 615.38)" clip-path="url(#cs36)"/><use href="#fl_it" transform="translate(551 615.23)" clip-path="url(#cs37)"/><use href="#fl_it" transform="translate(551 615.09)" clip-path="url(#cs38)"/><use href="#fl_it" transform="translate(551 614.96)" clip-path="url(#cs39)"/><use href="#fl_it" transform="translate(551 614.84)" clip-path="url(#cs40)"/><use href="#fl_it" transform="translate(551 614.73)" clip-path="url(#cs41)"/><use href="#fl_it" transform="translate(551 614.64)" clip-path="url(#cs42)"/><use href="#fl_it" transform="translate(551 614.53)" clip-path="url(#cs43)"/><use href="#fl_it" transform="translate(551 614.43)" clip-path="url(#cs44)"/><use href="#fl_it" transform="translate(551 614.35)" clip-path="url(#cs45)"/><use href="#fl_it" transform="translate(551 614.29)" clip-path="url(#cs46)"/><use href="#fl_it" transform="translate(551 614.24)" clip-path="url(#cs47)"/><use href="#fl_it" transform="translate(551 614.21)" clip-path="url(#cs48)"/><use href="#fl_it" transform="translate(551 614.20)" clip-path="url(#cs49)"/><use href="#fl_it" transform="translate(551 614.20)" clip-path="url(#cs50)"/><use href="#fl_it" transform="translate(551 614.22)" clip-path="url(#cs51)"/><use href="#fl_it" transform="translate(551 614.25)" clip-path="url(#cs52)"/><use href="#fl_it" transform="translate(551 614.30)" clip-path="url(#cs53)"/><use href="#fl_it" transform="translate(551 614.36)" clip-path="url(#cs54)"/><use href="#fl_it" transform="translate(551 614.46)" clip-path="url(#cs55)"/><use href="#fl_it" transform="translate(551 614.58)" clip-path="url(#cs56)"/><use href="#fl_it" transform="translate(551 614.71)" clip-path="url(#cs57)"/><use href="#fl_it" transform="translate(551 614.87)" clip-path="url(#cs58)"/><use href="#fl_it" transform="translate(551 615.03)" clip-path="url(#cs59)"/><use href="#fl_it" transform="translate(551 615.20)" clip-path="url(#cs60)"/><use href="#fl_it" transform="translate(551 615.36)" clip-path="url(#cs61)"/><use href="#fl_it" transform="translate(551 615.53)" clip-path="url(#cs62)"/><use href="#fl_it" transform="translate(551 615.68)" clip-path="url(#cs63)"/><use href="#fl_it" transform="translate(551 615.70)" clip-path="url(#cs64)"/><use href="#fl_it" transform="translate(551 615.70)" clip-path="url(#cs65)"/><use href="#fl_it" transform="translate(551 615.70)" clip-path="url(#cs66)"/></g>
<g><use href="#fl_cn" transform="translate(643 616.30)" clip-path="url(#cs0)"/><use href="#fl_cn" transform="translate(643 616.32)" clip-path="url(#cs1)"/><use href="#fl_cn" transform="translate(643 616.42)" clip-path="url(#cs2)"/><use href="#fl_cn" transform="translate(643 616.59)" clip-path="url(#cs3)"/><use href="#fl_cn" transform="translate(643 616.79)" clip-path="url(#cs4)"/><use href="#fl_cn" transform="translate(643 617.02)" clip-path="url(#cs5)"/><use href="#fl_cn" transform="translate(643 617.26)" clip-path="url(#cs6)"/><use href="#fl_cn" transform="translate(643 617.49)" clip-path="url(#cs7)"/><use href="#fl_cn" transform="translate(643 617.70)" clip-path="url(#cs8)"/><use href="#fl_cn" transform="translate(643 617.87)" clip-path="url(#cs9)"/><use href="#fl_cn" transform="translate(643 617.97)" clip-path="url(#cs10)"/><use href="#fl_cn" transform="translate(643 618.01)" clip-path="url(#cs11)"/><use href="#fl_cn" transform="translate(643 618.01)" clip-path="url(#cs12)"/><use href="#fl_cn" transform="translate(643 617.99)" clip-path="url(#cs13)"/><use href="#fl_cn" transform="translate(643 617.96)" clip-path="url(#cs14)"/><use href="#fl_cn" transform="translate(643 617.91)" clip-path="url(#cs15)"/><use href="#fl_cn" transform="translate(643 617.86)" clip-path="url(#cs16)"/><use href="#fl_cn" transform="translate(643 617.78)" clip-path="url(#cs17)"/><use href="#fl_cn" transform="translate(643 617.70)" clip-path="url(#cs18)"/><use href="#fl_cn" transform="translate(643 617.61)" clip-path="url(#cs19)"/><use href="#fl_cn" transform="translate(643 617.51)" clip-path="url(#cs20)"/><use href="#fl_cn" transform="translate(643 617.41)" clip-path="url(#cs21)"/><use href="#fl_cn" transform="translate(643 617.30)" clip-path="url(#cs22)"/><use href="#fl_cn" transform="translate(643 617.19)" clip-path="url(#cs23)"/><use href="#fl_cn" transform="translate(643 617.08)" clip-path="url(#cs24)"/><use href="#fl_cn" transform="translate(643 616.96)" clip-path="url(#cs25)"/><use href="#fl_cn" transform="translate(643 616.85)" clip-path="url(#cs26)"/><use href="#fl_cn" transform="translate(643 616.74)" clip-path="url(#cs27)"/><use href="#fl_cn" transform="translate(643 616.61)" clip-path="url(#cs28)"/><use href="#fl_cn" transform="translate(643 616.47)" clip-path="url(#cs29)"/><use href="#fl_cn" transform="translate(643 616.33)" clip-path="url(#cs30)"/><use href="#fl_cn" transform="translate(643 616.18)" clip-path="url(#cs31)"/><use href="#fl_cn" transform="translate(643 616.02)" clip-path="url(#cs32)"/><use href="#fl_cn" transform="translate(643 615.86)" clip-path="url(#cs33)"/><use href="#fl_cn" transform="translate(643 615.70)" clip-path="url(#cs34)"/><use href="#fl_cn" transform="translate(643 615.54)" clip-path="url(#cs35)"/><use href="#fl_cn" transform="translate(643 615.38)" clip-path="url(#cs36)"/><use href="#fl_cn" transform="translate(643 615.23)" clip-path="url(#cs37)"/><use href="#fl_cn" transform="translate(643 615.09)" clip-path="url(#cs38)"/><use href="#fl_cn" transform="translate(643 614.96)" clip-path="url(#cs39)"/><use href="#fl_cn" transform="translate(643 614.84)" clip-path="url(#cs40)"/><use href="#fl_cn" transform="translate(643 614.73)" clip-path="url(#cs41)"/><use href="#fl_cn" transform="translate(643 614.64)" clip-path="url(#cs42)"/><use href="#fl_cn" transform="translate(643 614.53)" clip-path="url(#cs43)"/><use href="#fl_cn" transform="translate(643 614.43)" clip-path="url(#cs44)"/><use href="#fl_cn" transform="translate(643 614.35)" clip-path="url(#cs45)"/><use href="#fl_cn" transform="translate(643 614.29)" clip-path="url(#cs46)"/><use href="#fl_cn" transform="translate(643 614.24)" clip-path="url(#cs47)"/><use href="#fl_cn" transform="translate(643 614.21)" clip-path="url(#cs48)"/><use href="#fl_cn" transform="translate(643 614.20)" clip-path="url(#cs49)"/><use href="#fl_cn" transform="translate(643 614.20)" clip-path="url(#cs50)"/><use href="#fl_cn" transform="translate(643 614.22)" clip-path="url(#cs51)"/><use href="#fl_cn" transform="translate(643 614.25)" clip-path="url(#cs52)"/><use href="#fl_cn" transform="translate(643 614.30)" clip-path="url(#cs53)"/><use href="#fl_cn" transform="translate(643 614.36)" clip-path="url(#cs54)"/><use href="#fl_cn" transform="translate(643 614.46)" clip-path="url(#cs55)"/><use href="#fl_cn" transform="translate(643 614.58)" clip-path="url(#cs56)"/><use href="#fl_cn" transform="translate(643 614.71)" clip-path="url(#cs57)"/><use href="#fl_cn" transform="translate(643 614.87)" clip-path="url(#cs58)"/><use href="#fl_cn" transform="translate(643 615.03)" clip-path="url(#cs59)"/><use href="#fl_cn" transform="translate(643 615.20)" clip-path="url(#cs60)"/><use href="#fl_cn" transform="translate(643 615.36)" clip-path="url(#cs61)"/><use href="#fl_cn" transform="translate(643 615.53)" clip-path="url(#cs62)"/><use href="#fl_cn" transform="translate(643 615.68)" clip-path="url(#cs63)"/><use href="#fl_cn" transform="translate(643 615.70)" clip-path="url(#cs64)"/><use href="#fl_cn" transform="translate(643 615.70)" clip-path="url(#cs65)"/><use href="#fl_cn" transform="translate(643 615.70)" clip-path="url(#cs66)"/></g>
<g><use href="#fl_br" transform="translate(736 616.30)" clip-path="url(#cs0)"/><use href="#fl_br" transform="translate(736 616.32)" clip-path="url(#cs1)"/><use href="#fl_br" transform="translate(736 616.42)" clip-path="url(#cs2)"/><use href="#fl_br" transform="translate(736 616.59)" clip-path="url(#cs3)"/><use href="#fl_br" transform="translate(736 616.79)" clip-path="url(#cs4)"/><use href="#fl_br" transform="translate(736 617.02)" clip-path="url(#cs5)"/><use href="#fl_br" transform="translate(736 617.26)" clip-path="url(#cs6)"/><use href="#fl_br" transform="translate(736 617.49)" clip-path="url(#cs7)"/><use href="#fl_br" transform="translate(736 617.70)" clip-path="url(#cs8)"/><use href="#fl_br" transform="translate(736 617.87)" clip-path="url(#cs9)"/><use href="#fl_br" transform="translate(736 617.97)" clip-path="url(#cs10)"/><use href="#fl_br" transform="translate(736 618.01)" clip-path="url(#cs11)"/><use href="#fl_br" transform="translate(736 618.01)" clip-path="url(#cs12)"/><use href="#fl_br" transform="translate(736 617.99)" clip-path="url(#cs13)"/><use href="#fl_br" transform="translate(736 617.96)" clip-path="url(#cs14)"/><use href="#fl_br" transform="translate(736 617.91)" clip-path="url(#cs15)"/><use href="#fl_br" transform="translate(736 617.86)" clip-path="url(#cs16)"/><use href="#fl_br" transform="translate(736 617.78)" clip-path="url(#cs17)"/><use href="#fl_br" transform="translate(736 617.70)" clip-path="url(#cs18)"/><use href="#fl_br" transform="translate(736 617.61)" clip-path="url(#cs19)"/><use href="#fl_br" transform="translate(736 617.51)" clip-path="url(#cs20)"/><use href="#fl_br" transform="translate(736 617.41)" clip-path="url(#cs21)"/><use href="#fl_br" transform="translate(736 617.30)" clip-path="url(#cs22)"/><use href="#fl_br" transform="translate(736 617.19)" clip-path="url(#cs23)"/><use href="#fl_br" transform="translate(736 617.08)" clip-path="url(#cs24)"/><use href="#fl_br" transform="translate(736 616.96)" clip-path="url(#cs25)"/><use href="#fl_br" transform="translate(736 616.85)" clip-path="url(#cs26)"/><use href="#fl_br" transform="translate(736 616.74)" clip-path="url(#cs27)"/><use href="#fl_br" transform="translate(736 616.61)" clip-path="url(#cs28)"/><use href="#fl_br" transform="translate(736 616.47)" clip-path="url(#cs29)"/><use href="#fl_br" transform="translate(736 616.33)" clip-path="url(#cs30)"/><use href="#fl_br" transform="translate(736 616.18)" clip-path="url(#cs31)"/><use href="#fl_br" transform="translate(736 616.02)" clip-path="url(#cs32)"/><use href="#fl_br" transform="translate(736 615.86)" clip-path="url(#cs33)"/><use href="#fl_br" transform="translate(736 615.70)" clip-path="url(#cs34)"/><use href="#fl_br" transform="translate(736 615.54)" clip-path="url(#cs35)"/><use href="#fl_br" transform="translate(736 615.38)" clip-path="url(#cs36)"/><use href="#fl_br" transform="translate(736 615.23)" clip-path="url(#cs37)"/><use href="#fl_br" transform="translate(736 615.09)" clip-path="url(#cs38)"/><use href="#fl_br" transform="translate(736 614.96)" clip-path="url(#cs39)"/><use href="#fl_br" transform="translate(736 614.84)" clip-path="url(#cs40)"/><use href="#fl_br" transform="translate(736 614.73)" clip-path="url(#cs41)"/><use href="#fl_br" transform="translate(736 614.64)" clip-path="url(#cs42)"/><use href="#fl_br" transform="translate(736 614.53)" clip-path="url(#cs43)"/><use href="#fl_br" transform="translate(736 614.43)" clip-path="url(#cs44)"/><use href="#fl_br" transform="translate(736 614.35)" clip-path="url(#cs45)"/><use href="#fl_br" transform="translate(736 614.29)" clip-path="url(#cs46)"/><use href="#fl_br" transform="translate(736 614.24)" clip-path="url(#cs47)"/><use href="#fl_br" transform="translate(736 614.21)" clip-path="url(#cs48)"/><use href="#fl_br" transform="translate(736 614.20)" clip-path="url(#cs49)"/><use href="#fl_br" transform="translate(736 614.20)" clip-path="url(#cs50)"/><use href="#fl_br" transform="translate(736 614.22)" clip-path="url(#cs51)"/><use href="#fl_br" transform="translate(736 614.25)" clip-path="url(#cs52)"/><use href="#fl_br" transform="translate(736 614.30)" clip-path="url(#cs53)"/><use href="#fl_br" transform="translate(736 614.36)" clip-path="url(#cs54)"/><use href="#fl_br" transform="translate(736 614.46)" clip-path="url(#cs55)"/><use href="#fl_br" transform="translate(736 614.58)" clip-path="url(#cs56)"/><use href="#fl_br" transform="translate(736 614.71)" clip-path="url(#cs57)"/><use href="#fl_br" transform="translate(736 614.87)" clip-path="url(#cs58)"/><use href="#fl_br" transform="translate(736 615.03)" clip-path="url(#cs59)"/><use href="#fl_br" transform="translate(736 615.20)" clip-path="url(#cs60)"/><use href="#fl_br" transform="translate(736 615.36)" clip-path="url(#cs61)"/><use href="#fl_br" transform="translate(736 615.53)" clip-path="url(#cs62)"/><use href="#fl_br" transform="translate(736 615.68)" clip-path="url(#cs63)"/><use href="#fl_br" transform="translate(736 615.70)" clip-path="url(#cs64)"/><use href="#fl_br" transform="translate(736 615.70)" clip-path="url(#cs65)"/><use href="#fl_br" transform="translate(736 615.70)" clip-path="url(#cs66)"/></g>
<g><use href="#fl_in" transform="translate(829 616.30)" clip-path="url(#cs0)"/><use href="#fl_in" transform="translate(829 616.32)" clip-path="url(#cs1)"/><use href="#fl_in" transform="translate(829 616.42)" clip-path="url(#cs2)"/><use href="#fl_in" transform="translate(829 616.59)" clip-path="url(#cs3)"/><use href="#fl_in" transform="translate(829 616.79)" clip-path="url(#cs4)"/><use href="#fl_in" transform="translate(829 617.02)" clip-path="url(#cs5)"/><use href="#fl_in" transform="translate(829 617.26)" clip-path="url(#cs6)"/><use href="#fl_in" transform="translate(829 617.49)" clip-path="url(#cs7)"/><use href="#fl_in" transform="translate(829 617.70)" clip-path="url(#cs8)"/><use href="#fl_in" transform="translate(829 617.87)" clip-path="url(#cs9)"/><use href="#fl_in" transform="translate(829 617.97)" clip-path="url(#cs10)"/><use href="#fl_in" transform="translate(829 618.01)" clip-path="url(#cs11)"/><use href="#fl_in" transform="translate(829 618.01)" clip-path="url(#cs12)"/><use href="#fl_in" transform="translate(829 617.99)" clip-path="url(#cs13)"/><use href="#fl_in" transform="translate(829 617.96)" clip-path="url(#cs14)"/><use href="#fl_in" transform="translate(829 617.91)" clip-path="url(#cs15)"/><use href="#fl_in" transform="translate(829 617.86)" clip-path="url(#cs16)"/><use href="#fl_in" transform="translate(829 617.78)" clip-path="url(#cs17)"/><use href="#fl_in" transform="translate(829 617.70)" clip-path="url(#cs18)"/><use href="#fl_in" transform="translate(829 617.61)" clip-path="url(#cs19)"/><use href="#fl_in" transform="translate(829 617.51)" clip-path="url(#cs20)"/><use href="#fl_in" transform="translate(829 617.41)" clip-path="url(#cs21)"/><use href="#fl_in" transform="translate(829 617.30)" clip-path="url(#cs22)"/><use href="#fl_in" transform="translate(829 617.19)" clip-path="url(#cs23)"/><use href="#fl_in" transform="translate(829 617.08)" clip-path="url(#cs24)"/><use href="#fl_in" transform="translate(829 616.96)" clip-path="url(#cs25)"/><use href="#fl_in" transform="translate(829 616.85)" clip-path="url(#cs26)"/><use href="#fl_in" transform="translate(829 616.74)" clip-path="url(#cs27)"/><use href="#fl_in" transform="translate(829 616.61)" clip-path="url(#cs28)"/><use href="#fl_in" transform="translate(829 616.47)" clip-path="url(#cs29)"/><use href="#fl_in" transform="translate(829 616.33)" clip-path="url(#cs30)"/><use href="#fl_in" transform="translate(829 616.18)" clip-path="url(#cs31)"/><use href="#fl_in" transform="translate(829 616.02)" clip-path="url(#cs32)"/><use href="#fl_in" transform="translate(829 615.86)" clip-path="url(#cs33)"/><use href="#fl_in" transform="translate(829 615.70)" clip-path="url(#cs34)"/><use href="#fl_in" transform="translate(829 615.54)" clip-path="url(#cs35)"/><use href="#fl_in" transform="translate(829 615.38)" clip-path="url(#cs36)"/><use href="#fl_in" transform="translate(829 615.23)" clip-path="url(#cs37)"/><use href="#fl_in" transform="translate(829 615.09)" clip-path="url(#cs38)"/><use href="#fl_in" transform="translate(829 614.96)" clip-path="url(#cs39)"/><use href="#fl_in" transform="translate(829 614.84)" clip-path="url(#cs40)"/><use href="#fl_in" transform="translate(829 614.73)" clip-path="url(#cs41)"/><use href="#fl_in" transform="translate(829 614.64)" clip-path="url(#cs42)"/><use href="#fl_in" transform="translate(829 614.53)" clip-path="url(#cs43)"/><use href="#fl_in" transform="translate(829 614.43)" clip-path="url(#cs44)"/><use href="#fl_in" transform="translate(829 614.35)" clip-path="url(#cs45)"/><use href="#fl_in" transform="translate(829 614.29)" clip-path="url(#cs46)"/><use href="#fl_in" transform="translate(829 614.24)" clip-path="url(#cs47)"/><use href="#fl_in" transform="translate(829 614.21)" clip-path="url(#cs48)"/><use href="#fl_in" transform="translate(829 614.20)" clip-path="url(#cs49)"/><use href="#fl_in" transform="translate(829 614.20)" clip-path="url(#cs50)"/><use href="#fl_in" transform="translate(829 614.22)" clip-path="url(#cs51)"/><use href="#fl_in" transform="translate(829 614.25)" clip-path="url(#cs52)"/><use href="#fl_in" transform="translate(829 614.30)" clip-path="url(#cs53)"/><use href="#fl_in" transform="translate(829 614.36)" clip-path="url(#cs54)"/><use href="#fl_in" transform="translate(829 614.46)" clip-path="url(#cs55)"/><use href="#fl_in" transform="translate(829 614.58)" clip-path="url(#cs56)"/><use href="#fl_in" transform="translate(829 614.71)" clip-path="url(#cs57)"/><use href="#fl_in" transform="translate(829 614.87)" clip-path="url(#cs58)"/><use href="#fl_in" transform="translate(829 615.03)" clip-path="url(#cs59)"/><use href="#fl_in" transform="translate(829 615.20)" clip-path="url(#cs60)"/><use href="#fl_in" transform="translate(829 615.36)" clip-path="url(#cs61)"/><use href="#fl_in" transform="translate(829 615.53)" clip-path="url(#cs62)"/><use href="#fl_in" transform="translate(829 615.68)" clip-path="url(#cs63)"/><use href="#fl_in" transform="translate(829 615.70)" clip-path="url(#cs64)"/><use href="#fl_in" transform="translate(829 615.70)" clip-path="url(#cs65)"/><use href="#fl_in" transform="translate(829 615.70)" clip-path="url(#cs66)"/></g>
<svg x="932.3" y="600" width="80" height="70" overflow="hidden"><g transform="translate(-932.3 -600)"><use href="#fl_fr" transform="translate(925 616.30)" clip-path="url(#cs0)"/><use href="#fl_fr" transform="translate(925 616.32)" clip-path="url(#cs1)"/><use href="#fl_fr" transform="translate(925 616.42)" clip-path="url(#cs2)"/><use href="#fl_fr" transform="translate(925 616.59)" clip-path="url(#cs3)"/><use href="#fl_fr" transform="translate(925 616.79)" clip-path="url(#cs4)"/><use href="#fl_fr" transform="translate(925 617.02)" clip-path="url(#cs5)"/><use href="#fl_fr" transform="translate(925 617.26)" clip-path="url(#cs6)"/><use href="#fl_fr" transform="translate(925 617.49)" clip-path="url(#cs7)"/><use href="#fl_fr" transform="translate(925 617.70)" clip-path="url(#cs8)"/><use href="#fl_fr" transform="translate(925 617.87)" clip-path="url(#cs9)"/><use href="#fl_fr" transform="translate(925 617.97)" clip-path="url(#cs10)"/><use href="#fl_fr" transform="translate(925 618.01)" clip-path="url(#cs11)"/><use href="#fl_fr" transform="translate(925 618.01)" clip-path="url(#cs12)"/><use href="#fl_fr" transform="translate(925 617.99)" clip-path="url(#cs13)"/><use href="#fl_fr" transform="translate(925 617.96)" clip-path="url(#cs14)"/><use href="#fl_fr" transform="translate(925 617.91)" clip-path="url(#cs15)"/><use href="#fl_fr" transform="translate(925 617.86)" clip-path="url(#cs16)"/><use href="#fl_fr" transform="translate(925 617.78)" clip-path="url(#cs17)"/><use href="#fl_fr" transform="translate(925 617.70)" clip-path="url(#cs18)"/><use href="#fl_fr" transform="translate(925 617.61)" clip-path="url(#cs19)"/><use href="#fl_fr" transform="translate(925 617.51)" clip-path="url(#cs20)"/><use href="#fl_fr" transform="translate(925 617.41)" clip-path="url(#cs21)"/><use href="#fl_fr" transform="translate(925 617.30)" clip-path="url(#cs22)"/><use href="#fl_fr" transform="translate(925 617.19)" clip-path="url(#cs23)"/><use href="#fl_fr" transform="translate(925 617.08)" clip-path="url(#cs24)"/><use href="#fl_fr" transform="translate(925 616.96)" clip-path="url(#cs25)"/><use href="#fl_fr" transform="translate(925 616.85)" clip-path="url(#cs26)"/><use href="#fl_fr" transform="translate(925 616.74)" clip-path="url(#cs27)"/><use href="#fl_fr" transform="translate(925 616.61)" clip-path="url(#cs28)"/><use href="#fl_fr" transform="translate(925 616.47)" clip-path="url(#cs29)"/><use href="#fl_fr" transform="translate(925 616.33)" clip-path="url(#cs30)"/><use href="#fl_fr" transform="translate(925 616.18)" clip-path="url(#cs31)"/><use href="#fl_fr" transform="translate(925 616.02)" clip-path="url(#cs32)"/><use href="#fl_fr" transform="translate(925 615.86)" clip-path="url(#cs33)"/><use href="#fl_fr" transform="translate(925 615.70)" clip-path="url(#cs34)"/><use href="#fl_fr" transform="translate(925 615.54)" clip-path="url(#cs35)"/><use href="#fl_fr" transform="translate(925 615.38)" clip-path="url(#cs36)"/><use href="#fl_fr" transform="translate(925 615.23)" clip-path="url(#cs37)"/><use href="#fl_fr" transform="translate(925 615.09)" clip-path="url(#cs38)"/><use href="#fl_fr" transform="translate(925 614.96)" clip-path="url(#cs39)"/><use href="#fl_fr" transform="translate(925 614.84)" clip-path="url(#cs40)"/><use href="#fl_fr" transform="translate(925 614.73)" clip-path="url(#cs41)"/><use href="#fl_fr" transform="translate(925 614.64)" clip-path="url(#cs42)"/><use href="#fl_fr" transform="translate(925 614.53)" clip-path="url(#cs43)"/><use href="#fl_fr" transform="translate(925 614.43)" clip-path="url(#cs44)"/><use href="#fl_fr" transform="translate(925 614.35)" clip-path="url(#cs45)"/><use href="#fl_fr" transform="translate(925 614.29)" clip-path="url(#cs46)"/><use href="#fl_fr" transform="translate(925 614.24)" clip-path="url(#cs47)"/><use href="#fl_fr" transform="translate(925 614.21)" clip-path="url(#cs48)"/><use href="#fl_fr" transform="translate(925 614.20)" clip-path="url(#cs49)"/><use href="#fl_fr" transform="translate(925 614.20)" clip-path="url(#cs50)"/><use href="#fl_fr" transform="translate(925 614.22)" clip-path="url(#cs51)"/><use href="#fl_fr" transform="translate(925 614.25)" clip-path="url(#cs52)"/><use href="#fl_fr" transform="translate(925 614.30)" clip-path="url(#cs53)"/><use href="#fl_fr" transform="translate(925 614.36)" clip-path="url(#cs54)"/><use href="#fl_fr" transform="translate(925 614.46)" clip-path="url(#cs55)"/><use href="#fl_fr" transform="translate(925 614.58)" clip-path="url(#cs56)"/><use href="#fl_fr" transform="translate(925 614.71)" clip-path="url(#cs57)"/><use href="#fl_fr" transform="translate(925 614.87)" clip-path="url(#cs58)"/><use href="#fl_fr" transform="translate(925 615.03)" clip-path="url(#cs59)"/><use href="#fl_fr" transform="translate(925 615.20)" clip-path="url(#cs60)"/><use href="#fl_fr" transform="translate(925 615.36)" clip-path="url(#cs61)"/><use href="#fl_fr" transform="translate(925 615.53)" clip-path="url(#cs62)"/><use href="#fl_fr" transform="translate(925 615.68)" clip-path="url(#cs63)"/><use href="#fl_fr" transform="translate(925 615.70)" clip-path="url(#cs64)"/><use href="#fl_fr" transform="translate(925 615.70)" clip-path="url(#cs65)"/><use href="#fl_fr" transform="translate(925 615.70)" clip-path="url(#cs66)"/></g></svg>
<g><use href="#fl_pk" transform="translate(1018 616.30)" clip-path="url(#cs0)"/><use href="#fl_pk" transform="translate(1018 616.32)" clip-path="url(#cs1)"/><use href="#fl_pk" transform="translate(1018 616.42)" clip-path="url(#cs2)"/><use href="#fl_pk" transform="translate(1018 616.59)" clip-path="url(#cs3)"/><use href="#fl_pk" transform="translate(1018 616.79)" clip-path="url(#cs4)"/><use href="#fl_pk" transform="translate(1018 617.02)" clip-path="url(#cs5)"/><use href="#fl_pk" transform="translate(1018 617.26)" clip-path="url(#cs6)"/><use href="#fl_pk" transform="translate(1018 617.49)" clip-path="url(#cs7)"/><use href="#fl_pk" transform="translate(1018 617.70)" clip-path="url(#cs8)"/><use href="#fl_pk" transform="translate(1018 617.87)" clip-path="url(#cs9)"/><use href="#fl_pk" transform="translate(1018 617.97)" clip-path="url(#cs10)"/><use href="#fl_pk" transform="translate(1018 618.01)" clip-path="url(#cs11)"/><use href="#fl_pk" transform="translate(1018 618.01)" clip-path="url(#cs12)"/><use href="#fl_pk" transform="translate(1018 617.99)" clip-path="url(#cs13)"/><use href="#fl_pk" transform="translate(1018 617.96)" clip-path="url(#cs14)"/><use href="#fl_pk" transform="translate(1018 617.91)" clip-path="url(#cs15)"/><use href="#fl_pk" transform="translate(1018 617.86)" clip-path="url(#cs16)"/><use href="#fl_pk" transform="translate(1018 617.78)" clip-path="url(#cs17)"/><use href="#fl_pk" transform="translate(1018 617.70)" clip-path="url(#cs18)"/><use href="#fl_pk" transform="translate(1018 617.61)" clip-path="url(#cs19)"/><use href="#fl_pk" transform="translate(1018 617.51)" clip-path="url(#cs20)"/><use href="#fl_pk" transform="translate(1018 617.41)" clip-path="url(#cs21)"/><use href="#fl_pk" transform="translate(1018 617.30)" clip-path="url(#cs22)"/><use href="#fl_pk" transform="translate(1018 617.19)" clip-path="url(#cs23)"/><use href="#fl_pk" transform="translate(1018 617.08)" clip-path="url(#cs24)"/><use href="#fl_pk" transform="translate(1018 616.96)" clip-path="url(#cs25)"/><use href="#fl_pk" transform="translate(1018 616.85)" clip-path="url(#cs26)"/><use href="#fl_pk" transform="translate(1018 616.74)" clip-path="url(#cs27)"/><use href="#fl_pk" transform="translate(1018 616.61)" clip-path="url(#cs28)"/><use href="#fl_pk" transform="translate(1018 616.47)" clip-path="url(#cs29)"/><use href="#fl_pk" transform="translate(1018 616.33)" clip-path="url(#cs30)"/><use href="#fl_pk" transform="translate(1018 616.18)" clip-path="url(#cs31)"/><use href="#fl_pk" transform="translate(1018 616.02)" clip-path="url(#cs32)"/><use href="#fl_pk" transform="translate(1018 615.86)" clip-path="url(#cs33)"/><use href="#fl_pk" transform="translate(1018 615.70)" clip-path="url(#cs34)"/><use href="#fl_pk" transform="translate(1018 615.54)" clip-path="url(#cs35)"/><use href="#fl_pk" transform="translate(1018 615.38)" clip-path="url(#cs36)"/><use href="#fl_pk" transform="translate(1018 615.23)" clip-path="url(#cs37)"/><use href="#fl_pk" transform="translate(1018 615.09)" clip-path="url(#cs38)"/><use href="#fl_pk" transform="translate(1018 614.96)" clip-path="url(#cs39)"/><use href="#fl_pk" transform="translate(1018 614.84)" clip-path="url(#cs40)"/><use href="#fl_pk" transform="translate(1018 614.73)" clip-path="url(#cs41)"/><use href="#fl_pk" transform="translate(1018 614.64)" clip-path="url(#cs42)"/><use href="#fl_pk" transform="translate(1018 614.53)" clip-path="url(#cs43)"/><use href="#fl_pk" transform="translate(1018 614.43)" clip-path="url(#cs44)"/><use href="#fl_pk" transform="translate(1018 614.35)" clip-path="url(#cs45)"/><use href="#fl_pk" transform="translate(1018 614.29)" clip-path="url(#cs46)"/><use href="#fl_pk" transform="translate(1018 614.24)" clip-path="url(#cs47)"/><use href="#fl_pk" transform="translate(1018 614.21)" clip-path="url(#cs48)"/><use href="#fl_pk" transform="translate(1018 614.20)" clip-path="url(#cs49)"/><use href="#fl_pk" transform="translate(1018 614.20)" clip-path="url(#cs50)"/><use href="#fl_pk" transform="translate(1018 614.22)" clip-path="url(#cs51)"/><use href="#fl_pk" transform="translate(1018 614.25)" clip-path="url(#cs52)"/><use href="#fl_pk" transform="translate(1018 614.30)" clip-path="url(#cs53)"/><use href="#fl_pk" transform="translate(1018 614.36)" clip-path="url(#cs54)"/><use href="#fl_pk" transform="translate(1018 614.46)" clip-path="url(#cs55)"/><use href="#fl_pk" transform="translate(1018 614.58)" clip-path="url(#cs56)"/><use href="#fl_pk" transform="translate(1018 614.71)" clip-path="url(#cs57)"/><use href="#fl_pk" transform="translate(1018 614.87)" clip-path="url(#cs58)"/><use href="#fl_pk" transform="translate(1018 615.03)" clip-path="url(#cs59)"/><use href="#fl_pk" transform="translate(1018 615.20)" clip-path="url(#cs60)"/><use href="#fl_pk" transform="translate(1018 615.36)" clip-path="url(#cs61)"/><use href="#fl_pk" transform="translate(1018 615.53)" clip-path="url(#cs62)"/><use href="#fl_pk" transform="translate(1018 615.68)" clip-path="url(#cs63)"/><use href="#fl_pk" transform="translate(1018 615.70)" clip-path="url(#cs64)"/><use href="#fl_pk" transform="translate(1018 615.70)" clip-path="url(#cs65)"/><use href="#fl_pk" transform="translate(1018 615.70)" clip-path="url(#cs66)"/></g>
<g><use href="#fl_id" transform="translate(1111 616.30)" clip-path="url(#cs0)"/><use href="#fl_id" transform="translate(1111 616.32)" clip-path="url(#cs1)"/><use href="#fl_id" transform="translate(1111 616.42)" clip-path="url(#cs2)"/><use href="#fl_id" transform="translate(1111 616.59)" clip-path="url(#cs3)"/><use href="#fl_id" transform="translate(1111 616.79)" clip-path="url(#cs4)"/><use href="#fl_id" transform="translate(1111 617.02)" clip-path="url(#cs5)"/><use href="#fl_id" transform="translate(1111 617.26)" clip-path="url(#cs6)"/><use href="#fl_id" transform="translate(1111 617.49)" clip-path="url(#cs7)"/><use href="#fl_id" transform="translate(1111 617.70)" clip-path="url(#cs8)"/><use href="#fl_id" transform="translate(1111 617.87)" clip-path="url(#cs9)"/><use href="#fl_id" transform="translate(1111 617.97)" clip-path="url(#cs10)"/><use href="#fl_id" transform="translate(1111 618.01)" clip-path="url(#cs11)"/><use href="#fl_id" transform="translate(1111 618.01)" clip-path="url(#cs12)"/><use href="#fl_id" transform="translate(1111 617.99)" clip-path="url(#cs13)"/><use href="#fl_id" transform="translate(1111 617.96)" clip-path="url(#cs14)"/><use href="#fl_id" transform="translate(1111 617.91)" clip-path="url(#cs15)"/><use href="#fl_id" transform="translate(1111 617.86)" clip-path="url(#cs16)"/><use href="#fl_id" transform="translate(1111 617.78)" clip-path="url(#cs17)"/><use href="#fl_id" transform="translate(1111 617.70)" clip-path="url(#cs18)"/><use href="#fl_id" transform="translate(1111 617.61)" clip-path="url(#cs19)"/><use href="#fl_id" transform="translate(1111 617.51)" clip-path="url(#cs20)"/><use href="#fl_id" transform="translate(1111 617.41)" clip-path="url(#cs21)"/><use href="#fl_id" transform="translate(1111 617.30)" clip-path="url(#cs22)"/><use href="#fl_id" transform="translate(1111 617.19)" clip-path="url(#cs23)"/><use href="#fl_id" transform="translate(1111 617.08)" clip-path="url(#cs24)"/><use href="#fl_id" transform="translate(1111 616.96)" clip-path="url(#cs25)"/><use href="#fl_id" transform="translate(1111 616.85)" clip-path="url(#cs26)"/><use href="#fl_id" transform="translate(1111 616.74)" clip-path="url(#cs27)"/><use href="#fl_id" transform="translate(1111 616.61)" clip-path="url(#cs28)"/><use href="#fl_id" transform="translate(1111 616.47)" clip-path="url(#cs29)"/><use href="#fl_id" transform="translate(1111 616.33)" clip-path="url(#cs30)"/><use href="#fl_id" transform="translate(1111 616.18)" clip-path="url(#cs31)"/><use href="#fl_id" transform="translate(1111 616.02)" clip-path="url(#cs32)"/><use href="#fl_id" transform="translate(1111 615.86)" clip-path="url(#cs33)"/><use href="#fl_id" transform="translate(1111 615.70)" clip-path="url(#cs34)"/><use href="#fl_id" transform="translate(1111 615.54)" clip-path="url(#cs35)"/><use href="#fl_id" transform="translate(1111 615.38)" clip-path="url(#cs36)"/><use href="#fl_id" transform="translate(1111 615.23)" clip-path="url(#cs37)"/><use href="#fl_id" transform="translate(1111 615.09)" clip-path="url(#cs38)"/><use href="#fl_id" transform="translate(1111 614.96)" clip-path="url(#cs39)"/><use href="#fl_id" transform="translate(1111 614.84)" clip-path="url(#cs40)"/><use href="#fl_id" transform="translate(1111 614.73)" clip-path="url(#cs41)"/><use href="#fl_id" transform="translate(1111 614.64)" clip-path="url(#cs42)"/><use href="#fl_id" transform="translate(1111 614.53)" clip-path="url(#cs43)"/><use href="#fl_id" transform="translate(1111 614.43)" clip-path="url(#cs44)"/><use href="#fl_id" transform="translate(1111 614.35)" clip-path="url(#cs45)"/><use href="#fl_id" transform="translate(1111 614.29)" clip-path="url(#cs46)"/><use href="#fl_id" transform="translate(1111 614.24)" clip-path="url(#cs47)"/><use href="#fl_id" transform="translate(1111 614.21)" clip-path="url(#cs48)"/><use href="#fl_id" transform="translate(1111 614.20)" clip-path="url(#cs49)"/><use href="#fl_id" transform="translate(1111 614.20)" clip-path="url(#cs50)"/><use href="#fl_id" transform="translate(1111 614.22)" clip-path="url(#cs51)"/><use href="#fl_id" transform="translate(1111 614.25)" clip-path="url(#cs52)"/><use href="#fl_id" transform="translate(1111 614.30)" clip-path="url(#cs53)"/><use href="#fl_id" transform="translate(1111 614.36)" clip-path="url(#cs54)"/><use href="#fl_id" transform="translate(1111 614.46)" clip-path="url(#cs55)"/><use href="#fl_id" transform="translate(1111 614.58)" clip-path="url(#cs56)"/><use href="#fl_id" transform="translate(1111 614.71)" clip-path="url(#cs57)"/><use href="#fl_id" transform="translate(1111 614.87)" clip-path="url(#cs58)"/><use href="#fl_id" transform="translate(1111 615.03)" clip-path="url(#cs59)"/><use href="#fl_id" transform="translate(1111 615.20)" clip-path="url(#cs60)"/><use href="#fl_id" transform="translate(1111 615.36)" clip-path="url(#cs61)"/><use href="#fl_id" transform="translate(1111 615.53)" clip-path="url(#cs62)"/><use href="#fl_id" transform="translate(1111 615.68)" clip-path="url(#cs63)"/><use href="#fl_id" transform="translate(1111 615.70)" clip-path="url(#cs64)"/><use href="#fl_id" transform="translate(1111 615.70)" clip-path="url(#cs65)"/><use href="#fl_id" transform="translate(1111 615.70)" clip-path="url(#cs66)"/></g>
<g><use href="#fl_se" transform="translate(1204 616.30)" clip-path="url(#cs0)"/><use href="#fl_se" transform="translate(1204 616.32)" clip-path="url(#cs1)"/><use href="#fl_se" transform="translate(1204 616.42)" clip-path="url(#cs2)"/><use href="#fl_se" transform="translate(1204 616.59)" clip-path="url(#cs3)"/><use href="#fl_se" transform="translate(1204 616.79)" clip-path="url(#cs4)"/><use href="#fl_se" transform="translate(1204 617.02)" clip-path="url(#cs5)"/><use href="#fl_se" transform="translate(1204 617.26)" clip-path="url(#cs6)"/><use href="#fl_se" transform="translate(1204 617.49)" clip-path="url(#cs7)"/><use href="#fl_se" transform="translate(1204 617.70)" clip-path="url(#cs8)"/><use href="#fl_se" transform="translate(1204 617.87)" clip-path="url(#cs9)"/><use href="#fl_se" transform="translate(1204 617.97)" clip-path="url(#cs10)"/><use href="#fl_se" transform="translate(1204 618.01)" clip-path="url(#cs11)"/><use href="#fl_se" transform="translate(1204 618.01)" clip-path="url(#cs12)"/><use href="#fl_se" transform="translate(1204 617.99)" clip-path="url(#cs13)"/><use href="#fl_se" transform="translate(1204 617.96)" clip-path="url(#cs14)"/><use href="#fl_se" transform="translate(1204 617.91)" clip-path="url(#cs15)"/><use href="#fl_se" transform="translate(1204 617.86)" clip-path="url(#cs16)"/><use href="#fl_se" transform="translate(1204 617.78)" clip-path="url(#cs17)"/><use href="#fl_se" transform="translate(1204 617.70)" clip-path="url(#cs18)"/><use href="#fl_se" transform="translate(1204 617.61)" clip-path="url(#cs19)"/><use href="#fl_se" transform="translate(1204 617.51)" clip-path="url(#cs20)"/><use href="#fl_se" transform="translate(1204 617.41)" clip-path="url(#cs21)"/><use href="#fl_se" transform="translate(1204 617.30)" clip-path="url(#cs22)"/><use href="#fl_se" transform="translate(1204 617.19)" clip-path="url(#cs23)"/><use href="#fl_se" transform="translate(1204 617.08)" clip-path="url(#cs24)"/><use href="#fl_se" transform="translate(1204 616.96)" clip-path="url(#cs25)"/><use href="#fl_se" transform="translate(1204 616.85)" clip-path="url(#cs26)"/><use href="#fl_se" transform="translate(1204 616.74)" clip-path="url(#cs27)"/><use href="#fl_se" transform="translate(1204 616.61)" clip-path="url(#cs28)"/><use href="#fl_se" transform="translate(1204 616.47)" clip-path="url(#cs29)"/><use href="#fl_se" transform="translate(1204 616.33)" clip-path="url(#cs30)"/><use href="#fl_se" transform="translate(1204 616.18)" clip-path="url(#cs31)"/><use href="#fl_se" transform="translate(1204 616.02)" clip-path="url(#cs32)"/><use href="#fl_se" transform="translate(1204 615.86)" clip-path="url(#cs33)"/><use href="#fl_se" transform="translate(1204 615.70)" clip-path="url(#cs34)"/><use href="#fl_se" transform="translate(1204 615.54)" clip-path="url(#cs35)"/><use href="#fl_se" transform="translate(1204 615.38)" clip-path="url(#cs36)"/><use href="#fl_se" transform="translate(1204 615.23)" clip-path="url(#cs37)"/><use href="#fl_se" transform="translate(1204 615.09)" clip-path="url(#cs38)"/><use href="#fl_se" transform="translate(1204 614.96)" clip-path="url(#cs39)"/><use href="#fl_se" transform="translate(1204 614.84)" clip-path="url(#cs40)"/><use href="#fl_se" transform="translate(1204 614.73)" clip-path="url(#cs41)"/><use href="#fl_se" transform="translate(1204 614.64)" clip-path="url(#cs42)"/><use href="#fl_se" transform="translate(1204 614.53)" clip-path="url(#cs43)"/><use href="#fl_se" transform="translate(1204 614.43)" clip-path="url(#cs44)"/><use href="#fl_se" transform="translate(1204 614.35)" clip-path="url(#cs45)"/><use href="#fl_se" transform="translate(1204 614.29)" clip-path="url(#cs46)"/><use href="#fl_se" transform="translate(1204 614.24)" clip-path="url(#cs47)"/><use href="#fl_se" transform="translate(1204 614.21)" clip-path="url(#cs48)"/><use href="#fl_se" transform="translate(1204 614.20)" clip-path="url(#cs49)"/><use href="#fl_se" transform="translate(1204 614.20)" clip-path="url(#cs50)"/><use href="#fl_se" transform="translate(1204 614.22)" clip-path="url(#cs51)"/><use href="#fl_se" transform="translate(1204 614.25)" clip-path="url(#cs52)"/><use href="#fl_se" transform="translate(1204 614.30)" clip-path="url(#cs53)"/><use href="#fl_se" transform="translate(1204 614.36)" clip-path="url(#cs54)"/><use href="#fl_se" transform="translate(1204 614.46)" clip-path="url(#cs55)"/><use href="#fl_se" transform="translate(1204 614.58)" clip-path="url(#cs56)"/><use href="#fl_se" transform="translate(1204 614.71)" clip-path="url(#cs57)"/><use href="#fl_se" transform="translate(1204 614.87)" clip-path="url(#cs58)"/><use href="#fl_se" transform="translate(1204 615.03)" clip-path="url(#cs59)"/><use href="#fl_se" transform="translate(1204 615.20)" clip-path="url(#cs60)"/><use href="#fl_se" transform="translate(1204 615.36)" clip-path="url(#cs61)"/><use href="#fl_se" transform="translate(1204 615.53)" clip-path="url(#cs62)"/><use href="#fl_se" transform="translate(1204 615.68)" clip-path="url(#cs63)"/><use href="#fl_se" transform="translate(1204 615.70)" clip-path="url(#cs64)"/><use href="#fl_se" transform="translate(1204 615.70)" clip-path="url(#cs65)"/><use href="#fl_se" transform="translate(1204 615.70)" clip-path="url(#cs66)"/></g>
<g><use href="#fl_ng" transform="translate(1297 616.30)" clip-path="url(#cs0)"/><use href="#fl_ng" transform="translate(1297 616.32)" clip-path="url(#cs1)"/><use href="#fl_ng" transform="translate(1297 616.42)" clip-path="url(#cs2)"/><use href="#fl_ng" transform="translate(1297 616.59)" clip-path="url(#cs3)"/><use href="#fl_ng" transform="translate(1297 616.79)" clip-path="url(#cs4)"/><use href="#fl_ng" transform="translate(1297 617.02)" clip-path="url(#cs5)"/><use href="#fl_ng" transform="translate(1297 617.26)" clip-path="url(#cs6)"/><use href="#fl_ng" transform="translate(1297 617.49)" clip-path="url(#cs7)"/><use href="#fl_ng" transform="translate(1297 617.70)" clip-path="url(#cs8)"/><use href="#fl_ng" transform="translate(1297 617.87)" clip-path="url(#cs9)"/><use href="#fl_ng" transform="translate(1297 617.97)" clip-path="url(#cs10)"/><use href="#fl_ng" transform="translate(1297 618.01)" clip-path="url(#cs11)"/><use href="#fl_ng" transform="translate(1297 618.01)" clip-path="url(#cs12)"/><use href="#fl_ng" transform="translate(1297 617.99)" clip-path="url(#cs13)"/><use href="#fl_ng" transform="translate(1297 617.96)" clip-path="url(#cs14)"/><use href="#fl_ng" transform="translate(1297 617.91)" clip-path="url(#cs15)"/><use href="#fl_ng" transform="translate(1297 617.86)" clip-path="url(#cs16)"/><use href="#fl_ng" transform="translate(1297 617.78)" clip-path="url(#cs17)"/><use href="#fl_ng" transform="translate(1297 617.70)" clip-path="url(#cs18)"/><use href="#fl_ng" transform="translate(1297 617.61)" clip-path="url(#cs19)"/><use href="#fl_ng" transform="translate(1297 617.51)" clip-path="url(#cs20)"/><use href="#fl_ng" transform="translate(1297 617.41)" clip-path="url(#cs21)"/><use href="#fl_ng" transform="translate(1297 617.30)" clip-path="url(#cs22)"/><use href="#fl_ng" transform="translate(1297 617.19)" clip-path="url(#cs23)"/><use href="#fl_ng" transform="translate(1297 617.08)" clip-path="url(#cs24)"/><use href="#fl_ng" transform="translate(1297 616.96)" clip-path="url(#cs25)"/><use href="#fl_ng" transform="translate(1297 616.85)" clip-path="url(#cs26)"/><use href="#fl_ng" transform="translate(1297 616.74)" clip-path="url(#cs27)"/><use href="#fl_ng" transform="translate(1297 616.61)" clip-path="url(#cs28)"/><use href="#fl_ng" transform="translate(1297 616.47)" clip-path="url(#cs29)"/><use href="#fl_ng" transform="translate(1297 616.33)" clip-path="url(#cs30)"/><use href="#fl_ng" transform="translate(1297 616.18)" clip-path="url(#cs31)"/><use href="#fl_ng" transform="translate(1297 616.02)" clip-path="url(#cs32)"/><use href="#fl_ng" transform="translate(1297 615.86)" clip-path="url(#cs33)"/><use href="#fl_ng" transform="translate(1297 615.70)" clip-path="url(#cs34)"/><use href="#fl_ng" transform="translate(1297 615.54)" clip-path="url(#cs35)"/><use href="#fl_ng" transform="translate(1297 615.38)" clip-path="url(#cs36)"/><use href="#fl_ng" transform="translate(1297 615.23)" clip-path="url(#cs37)"/><use href="#fl_ng" transform="translate(1297 615.09)" clip-path="url(#cs38)"/><use href="#fl_ng" transform="translate(1297 614.96)" clip-path="url(#cs39)"/><use href="#fl_ng" transform="translate(1297 614.84)" clip-path="url(#cs40)"/><use href="#fl_ng" transform="translate(1297 614.73)" clip-path="url(#cs41)"/><use href="#fl_ng" transform="translate(1297 614.64)" clip-path="url(#cs42)"/><use href="#fl_ng" transform="translate(1297 614.53)" clip-path="url(#cs43)"/><use href="#fl_ng" transform="translate(1297 614.43)" clip-path="url(#cs44)"/><use href="#fl_ng" transform="translate(1297 614.35)" clip-path="url(#cs45)"/><use href="#fl_ng" transform="translate(1297 614.29)" clip-path="url(#cs46)"/><use href="#fl_ng" transform="translate(1297 614.24)" clip-path="url(#cs47)"/><use href="#fl_ng" transform="translate(1297 614.21)" clip-path="url(#cs48)"/><use href="#fl_ng" transform="translate(1297 614.20)" clip-path="url(#cs49)"/><use href="#fl_ng" transform="translate(1297 614.20)" clip-path="url(#cs50)"/><use href="#fl_ng" transform="translate(1297 614.22)" clip-path="url(#cs51)"/><use href="#fl_ng" transform="translate(1297 614.25)" clip-path="url(#cs52)"/><use href="#fl_ng" transform="translate(1297 614.30)" clip-path="url(#cs53)"/><use href="#fl_ng" transform="translate(1297 614.36)" clip-path="url(#cs54)"/><use href="#fl_ng" transform="translate(1297 614.46)" clip-path="url(#cs55)"/><use href="#fl_ng" transform="translate(1297 614.58)" clip-path="url(#cs56)"/><use href="#fl_ng" transform="translate(1297 614.71)" clip-path="url(#cs57)"/><use href="#fl_ng" transform="translate(1297 614.87)" clip-path="url(#cs58)"/><use href="#fl_ng" transform="translate(1297 615.03)" clip-path="url(#cs59)"/><use href="#fl_ng" transform="translate(1297 615.20)" clip-path="url(#cs60)"/><use href="#fl_ng" transform="translate(1297 615.36)" clip-path="url(#cs61)"/><use href="#fl_ng" transform="translate(1297 615.53)" clip-path="url(#cs62)"/><use href="#fl_ng" transform="translate(1297 615.68)" clip-path="url(#cs63)"/><use href="#fl_ng" transform="translate(1297 615.70)" clip-path="url(#cs64)"/><use href="#fl_ng" transform="translate(1297 615.70)" clip-path="url(#cs65)"/><use href="#fl_ng" transform="translate(1297 615.70)" clip-path="url(#cs66)"/></g>
<g><use href="#fl_gh" transform="translate(1390 616.30)" clip-path="url(#cs0)"/><use href="#fl_gh" transform="translate(1390 616.32)" clip-path="url(#cs1)"/><use href="#fl_gh" transform="translate(1390 616.42)" clip-path="url(#cs2)"/><use href="#fl_gh" transform="translate(1390 616.59)" clip-path="url(#cs3)"/><use href="#fl_gh" transform="translate(1390 616.79)" clip-path="url(#cs4)"/><use href="#fl_gh" transform="translate(1390 617.02)" clip-path="url(#cs5)"/><use href="#fl_gh" transform="translate(1390 617.26)" clip-path="url(#cs6)"/><use href="#fl_gh" transform="translate(1390 617.49)" clip-path="url(#cs7)"/><use href="#fl_gh" transform="translate(1390 617.70)" clip-path="url(#cs8)"/><use href="#fl_gh" transform="translate(1390 617.87)" clip-path="url(#cs9)"/><use href="#fl_gh" transform="translate(1390 617.97)" clip-path="url(#cs10)"/><use href="#fl_gh" transform="translate(1390 618.01)" clip-path="url(#cs11)"/><use href="#fl_gh" transform="translate(1390 618.01)" clip-path="url(#cs12)"/><use href="#fl_gh" transform="translate(1390 617.99)" clip-path="url(#cs13)"/><use href="#fl_gh" transform="translate(1390 617.96)" clip-path="url(#cs14)"/><use href="#fl_gh" transform="translate(1390 617.91)" clip-path="url(#cs15)"/><use href="#fl_gh" transform="translate(1390 617.86)" clip-path="url(#cs16)"/><use href="#fl_gh" transform="translate(1390 617.78)" clip-path="url(#cs17)"/><use href="#fl_gh" transform="translate(1390 617.70)" clip-path="url(#cs18)"/><use href="#fl_gh" transform="translate(1390 617.61)" clip-path="url(#cs19)"/><use href="#fl_gh" transform="translate(1390 617.51)" clip-path="url(#cs20)"/><use href="#fl_gh" transform="translate(1390 617.41)" clip-path="url(#cs21)"/><use href="#fl_gh" transform="translate(1390 617.30)" clip-path="url(#cs22)"/><use href="#fl_gh" transform="translate(1390 617.19)" clip-path="url(#cs23)"/><use href="#fl_gh" transform="translate(1390 617.08)" clip-path="url(#cs24)"/><use href="#fl_gh" transform="translate(1390 616.96)" clip-path="url(#cs25)"/><use href="#fl_gh" transform="translate(1390 616.85)" clip-path="url(#cs26)"/><use href="#fl_gh" transform="translate(1390 616.74)" clip-path="url(#cs27)"/><use href="#fl_gh" transform="translate(1390 616.61)" clip-path="url(#cs28)"/><use href="#fl_gh" transform="translate(1390 616.47)" clip-path="url(#cs29)"/><use href="#fl_gh" transform="translate(1390 616.33)" clip-path="url(#cs30)"/><use href="#fl_gh" transform="translate(1390 616.18)" clip-path="url(#cs31)"/><use href="#fl_gh" transform="translate(1390 616.02)" clip-path="url(#cs32)"/><use href="#fl_gh" transform="translate(1390 615.86)" clip-path="url(#cs33)"/><use href="#fl_gh" transform="translate(1390 615.70)" clip-path="url(#cs34)"/><use href="#fl_gh" transform="translate(1390 615.54)" clip-path="url(#cs35)"/><use href="#fl_gh" transform="translate(1390 615.38)" clip-path="url(#cs36)"/><use href="#fl_gh" transform="translate(1390 615.23)" clip-path="url(#cs37)"/><use href="#fl_gh" transform="translate(1390 615.09)" clip-path="url(#cs38)"/><use href="#fl_gh" transform="translate(1390 614.96)" clip-path="url(#cs39)"/><use href="#fl_gh" transform="translate(1390 614.84)" clip-path="url(#cs40)"/><use href="#fl_gh" transform="translate(1390 614.73)" clip-path="url(#cs41)"/><use href="#fl_gh" transform="translate(1390 614.64)" clip-path="url(#cs42)"/><use href="#fl_gh" transform="translate(1390 614.53)" clip-path="url(#cs43)"/><use href="#fl_gh" transform="translate(1390 614.43)" clip-path="url(#cs44)"/><use href="#fl_gh" transform="translate(1390 614.35)" clip-path="url(#cs45)"/><use href="#fl_gh" transform="translate(1390 614.29)" clip-path="url(#cs46)"/><use href="#fl_gh" transform="translate(1390 614.24)" clip-path="url(#cs47)"/><use href="#fl_gh" transform="translate(1390 614.21)" clip-path="url(#cs48)"/><use href="#fl_gh" transform="translate(1390 614.20)" clip-path="url(#cs49)"/><use href="#fl_gh" transform="translate(1390 614.20)" clip-path="url(#cs50)"/><use href="#fl_gh" transform="translate(1390 614.22)" clip-path="url(#cs51)"/><use href="#fl_gh" transform="translate(1390 614.25)" clip-path="url(#cs52)"/><use href="#fl_gh" transform="translate(1390 614.30)" clip-path="url(#cs53)"/><use href="#fl_gh" transform="translate(1390 614.36)" clip-path="url(#cs54)"/><use href="#fl_gh" transform="translate(1390 614.46)" clip-path="url(#cs55)"/><use href="#fl_gh" transform="translate(1390 614.58)" clip-path="url(#cs56)"/><use href="#fl_gh" transform="translate(1390 614.71)" clip-path="url(#cs57)"/><use href="#fl_gh" transform="translate(1390 614.87)" clip-path="url(#cs58)"/><use href="#fl_gh" transform="translate(1390 615.03)" clip-path="url(#cs59)"/><use href="#fl_gh" transform="translate(1390 615.20)" clip-path="url(#cs60)"/><use href="#fl_gh" transform="translate(1390 615.36)" clip-path="url(#cs61)"/><use href="#fl_gh" transform="translate(1390 615.53)" clip-path="url(#cs62)"/><use href="#fl_gh" transform="translate(1390 615.68)" clip-path="url(#cs63)"/><use href="#fl_gh" transform="translate(1390 615.70)" clip-path="url(#cs64)"/><use href="#fl_gh" transform="translate(1390 615.70)" clip-path="url(#cs65)"/><use href="#fl_gh" transform="translate(1390 615.70)" clip-path="url(#cs66)"/></g>
</svg></body></html>
